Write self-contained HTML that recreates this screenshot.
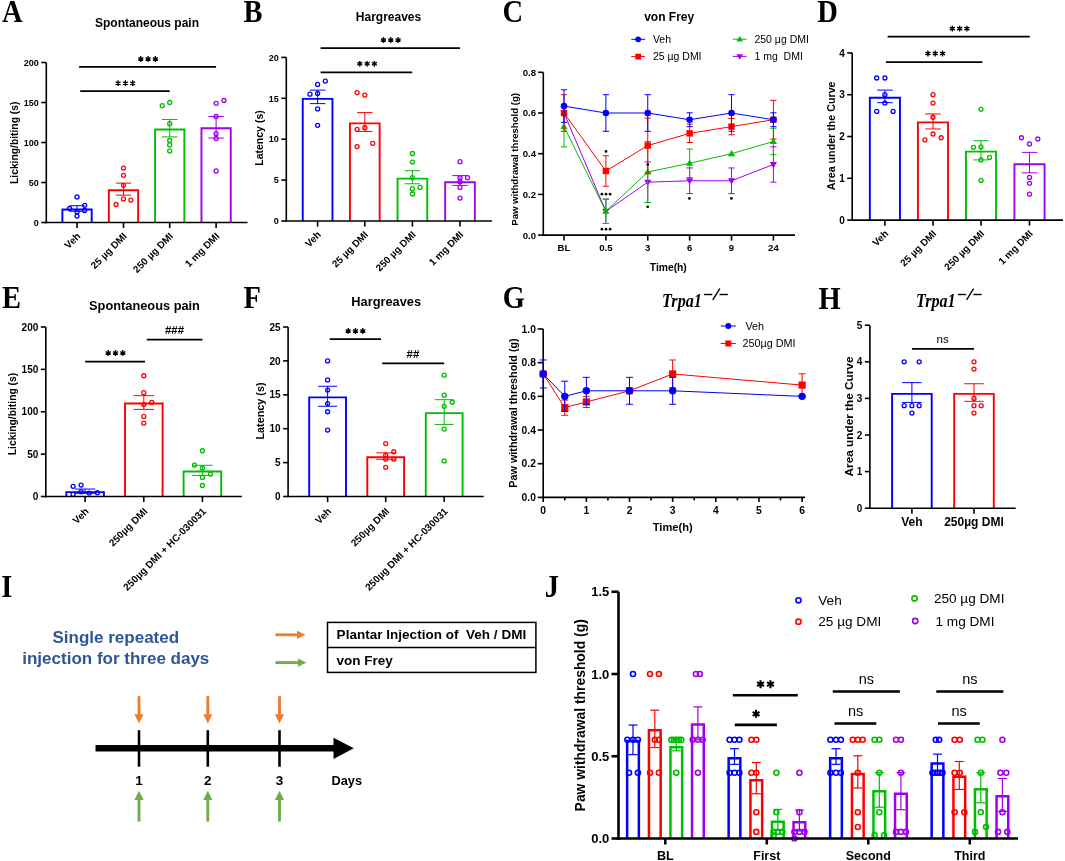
<!DOCTYPE html>
<html><head><meta charset="utf-8"><style>html,body{margin:0;padding:0;background:#fff;width:1065px;height:861px;overflow:hidden}svg{display:block;will-change:transform}</style></head>
<body><svg width="1065" height="861" viewBox="0 0 1065 861">
<rect width="1065" height="861" fill="#fff"/>
<g transform="translate(1.9 21.7) scale(0.92 1)"><text x="0" y="0" font-family="'Liberation Serif', serif" font-size="31" font-weight="bold">A</text></g>
<text x="147" y="26.5" font-family="'Liberation Sans', sans-serif" font-size="12" font-weight="bold" font-style="normal" text-anchor="middle" fill="#000">Spontaneous pain</text>
<text x="0" y="0" font-family="'Liberation Sans', sans-serif" font-size="10.3" font-weight="bold" text-anchor="middle" transform="translate(18.3 142.8) rotate(-90)">Licking/biting (s)</text>
<line x1="46.3" y1="223.3" x2="46.3" y2="62.5" stroke="#000" stroke-width="1.6" stroke-linecap="butt"/>
<line x1="41.3" y1="222.5" x2="46.3" y2="222.5" stroke="#000" stroke-width="1.6" stroke-linecap="butt"/>
<text x="38.8" y="225.74" font-family="'Liberation Sans', sans-serif" font-size="9" font-weight="bold" font-style="normal" text-anchor="end" fill="#000">0</text>
<line x1="41.3" y1="182.5" x2="46.3" y2="182.5" stroke="#000" stroke-width="1.6" stroke-linecap="butt"/>
<text x="38.8" y="185.74" font-family="'Liberation Sans', sans-serif" font-size="9" font-weight="bold" font-style="normal" text-anchor="end" fill="#000">50</text>
<line x1="41.3" y1="142.5" x2="46.3" y2="142.5" stroke="#000" stroke-width="1.6" stroke-linecap="butt"/>
<text x="38.8" y="145.74" font-family="'Liberation Sans', sans-serif" font-size="9" font-weight="bold" font-style="normal" text-anchor="end" fill="#000">100</text>
<line x1="41.3" y1="102.5" x2="46.3" y2="102.5" stroke="#000" stroke-width="1.6" stroke-linecap="butt"/>
<text x="38.8" y="105.74" font-family="'Liberation Sans', sans-serif" font-size="9" font-weight="bold" font-style="normal" text-anchor="end" fill="#000">150</text>
<line x1="41.3" y1="62.5" x2="46.3" y2="62.5" stroke="#000" stroke-width="1.6" stroke-linecap="butt"/>
<text x="38.8" y="65.74" font-family="'Liberation Sans', sans-serif" font-size="9" font-weight="bold" font-style="normal" text-anchor="end" fill="#000">200</text>
<path d="M62.4 222.5V209.45H91.7V222.5" fill="none" stroke="#0000FF" stroke-width="1.9" stroke-linejoin="miter"/>
<path d="M108.85 222.5V190.25H138.15V222.5" fill="none" stroke="#FF0000" stroke-width="1.9" stroke-linejoin="miter"/>
<path d="M155.05 222.5V129.45H184.35V222.5" fill="none" stroke="#00BE00" stroke-width="1.9" stroke-linejoin="miter"/>
<path d="M201.45 222.5V128.25H230.75V222.5" fill="none" stroke="#A000EE" stroke-width="1.9" stroke-linejoin="miter"/>
<line x1="77.05" y1="205.7" x2="77.05" y2="211.3" stroke="#0000FF" stroke-width="1" stroke-linecap="butt"/>
<line x1="69.35" y1="205.7" x2="84.75" y2="205.7" stroke="#0000FF" stroke-width="1" stroke-linecap="butt"/>
<line x1="69.35" y1="211.3" x2="84.75" y2="211.3" stroke="#0000FF" stroke-width="1" stroke-linecap="butt"/>
<circle cx="77.05" cy="196.9" r="2" stroke="#0000FF" stroke-width="1.3" fill="none"/>
<circle cx="69.65" cy="208.5" r="2" stroke="#0000FF" stroke-width="1.3" fill="none"/>
<circle cx="84.65" cy="205.3" r="2" stroke="#0000FF" stroke-width="1.3" fill="none"/>
<circle cx="84.65" cy="210.5" r="2" stroke="#0000FF" stroke-width="1.3" fill="none"/>
<circle cx="77.05" cy="211.7" r="2" stroke="#0000FF" stroke-width="1.3" fill="none"/>
<circle cx="77.05" cy="216.1" r="2" stroke="#0000FF" stroke-width="1.3" fill="none"/>
<line x1="123.5" y1="183.14" x2="123.5" y2="195.14" stroke="#FF0000" stroke-width="1" stroke-linecap="butt"/>
<line x1="115.8" y1="183.14" x2="131.2" y2="183.14" stroke="#FF0000" stroke-width="1" stroke-linecap="butt"/>
<line x1="115.8" y1="195.14" x2="131.2" y2="195.14" stroke="#FF0000" stroke-width="1" stroke-linecap="butt"/>
<circle cx="123.5" cy="168.1" r="2" stroke="#FF0000" stroke-width="1.3" fill="none"/>
<circle cx="123.5" cy="175.3" r="2" stroke="#FF0000" stroke-width="1.3" fill="none"/>
<circle cx="123.5" cy="185.3" r="2" stroke="#FF0000" stroke-width="1.3" fill="none"/>
<circle cx="130.9" cy="200.1" r="2" stroke="#FF0000" stroke-width="1.3" fill="none"/>
<circle cx="116.1" cy="204.5" r="2" stroke="#FF0000" stroke-width="1.3" fill="none"/>
<circle cx="123.5" cy="198.9" r="2" stroke="#FF0000" stroke-width="1.3" fill="none"/>
<line x1="169.7" y1="119.46" x2="169.7" y2="136.9" stroke="#00BE00" stroke-width="1" stroke-linecap="butt"/>
<line x1="162" y1="119.46" x2="177.4" y2="119.46" stroke="#00BE00" stroke-width="1" stroke-linecap="butt"/>
<line x1="162" y1="136.9" x2="177.4" y2="136.9" stroke="#00BE00" stroke-width="1" stroke-linecap="butt"/>
<circle cx="162.2" cy="105.7" r="2" stroke="#00BE00" stroke-width="1.3" fill="none"/>
<circle cx="169.7" cy="102.5" r="2" stroke="#00BE00" stroke-width="1.3" fill="none"/>
<circle cx="169.7" cy="123.7" r="2" stroke="#00BE00" stroke-width="1.3" fill="none"/>
<circle cx="169.7" cy="140.5" r="2" stroke="#00BE00" stroke-width="1.3" fill="none"/>
<circle cx="169.7" cy="144.9" r="2" stroke="#00BE00" stroke-width="1.3" fill="none"/>
<circle cx="169.7" cy="150.9" r="2" stroke="#00BE00" stroke-width="1.3" fill="none"/>
<line x1="216.1" y1="116.5" x2="216.1" y2="138.02" stroke="#A000EE" stroke-width="1" stroke-linecap="butt"/>
<line x1="208.4" y1="116.5" x2="223.8" y2="116.5" stroke="#A000EE" stroke-width="1" stroke-linecap="butt"/>
<line x1="208.4" y1="138.02" x2="223.8" y2="138.02" stroke="#A000EE" stroke-width="1" stroke-linecap="butt"/>
<circle cx="216.1" cy="103.3" r="2" stroke="#A000EE" stroke-width="1.3" fill="none"/>
<circle cx="223.9" cy="100.5" r="2" stroke="#A000EE" stroke-width="1.3" fill="none"/>
<circle cx="216.1" cy="116.5" r="2" stroke="#A000EE" stroke-width="1.3" fill="none"/>
<circle cx="216.1" cy="133.7" r="2" stroke="#A000EE" stroke-width="1.3" fill="none"/>
<circle cx="216.1" cy="138.5" r="2" stroke="#A000EE" stroke-width="1.3" fill="none"/>
<circle cx="216.1" cy="170.9" r="2" stroke="#A000EE" stroke-width="1.3" fill="none"/>
<line x1="45.5" y1="222.5" x2="247.5" y2="222.5" stroke="#000" stroke-width="1.6" stroke-linecap="butt"/>
<line x1="77.05" y1="222.5" x2="77.05" y2="228.1" stroke="#000" stroke-width="1.6" stroke-linecap="butt"/>
<line x1="123.5" y1="222.5" x2="123.5" y2="228.1" stroke="#000" stroke-width="1.6" stroke-linecap="butt"/>
<line x1="169.7" y1="222.5" x2="169.7" y2="228.1" stroke="#000" stroke-width="1.6" stroke-linecap="butt"/>
<line x1="216.1" y1="222.5" x2="216.1" y2="228.1" stroke="#000" stroke-width="1.6" stroke-linecap="butt"/>
<line x1="79.1" y1="66.8" x2="216.1" y2="66.8" stroke="#000" stroke-width="1.75" stroke-linecap="butt"/>
<line x1="80.2" y1="91.2" x2="169.7" y2="91.2" stroke="#000" stroke-width="1.75" stroke-linecap="butt"/>
<path d="M140.8 56.1L140.8 61.9M138.29 57.55L143.31 60.45M143.31 57.55L138.29 60.45" stroke="#000" stroke-width="1.35" fill="none"/>
<path d="M148.1 56.1L148.1 61.9M145.59 57.55L150.61 60.45M150.61 57.55L145.59 60.45" stroke="#000" stroke-width="1.35" fill="none"/>
<path d="M155.4 56.1L155.4 61.9M152.89 57.55L157.91 60.45M157.91 57.55L152.89 60.45" stroke="#000" stroke-width="1.35" fill="none"/>
<path d="M118.1 80.3L118.1 86.1M115.59 81.75L120.61 84.65M120.61 81.75L115.59 84.65" stroke="#000" stroke-width="1.35" fill="none"/>
<path d="M125.4 80.3L125.4 86.1M122.89 81.75L127.91 84.65M127.91 81.75L122.89 84.65" stroke="#000" stroke-width="1.35" fill="none"/>
<path d="M132.7 80.3L132.7 86.1M130.19 81.75L135.21 84.65M135.21 81.75L130.19 84.65" stroke="#000" stroke-width="1.35" fill="none"/>
<text x="0" y="0" font-family="'Liberation Sans', sans-serif" font-size="9.9" font-weight="bold" text-anchor="end" transform="translate(81.05 236.8) rotate(-45)">Veh</text>
<text x="0" y="0" font-family="'Liberation Sans', sans-serif" font-size="9.9" font-weight="bold" text-anchor="end" transform="translate(127.5 236.8) rotate(-45)">25 µg DMI</text>
<text x="0" y="0" font-family="'Liberation Sans', sans-serif" font-size="9.9" font-weight="bold" text-anchor="end" transform="translate(173.7 236.8) rotate(-45)">250 µg DMI</text>
<text x="0" y="0" font-family="'Liberation Sans', sans-serif" font-size="9.9" font-weight="bold" text-anchor="end" transform="translate(220.1 236.8) rotate(-45)">1 mg DMI</text>
<g transform="translate(243.5 21.7) scale(0.92 1)"><text x="0" y="0" font-family="'Liberation Serif', serif" font-size="31" font-weight="bold">B</text></g>
<text x="388.5" y="20.8" font-family="'Liberation Sans', sans-serif" font-size="12" font-weight="bold" font-style="normal" text-anchor="middle" fill="#000">Hargreaves</text>
<text x="0" y="0" font-family="'Liberation Sans', sans-serif" font-size="10.5" font-weight="bold" text-anchor="middle" transform="translate(262.8 138) rotate(-90)">Latency (s)</text>
<line x1="286.3" y1="221.8" x2="286.3" y2="57.4" stroke="#000" stroke-width="1.6" stroke-linecap="butt"/>
<line x1="281.3" y1="221" x2="286.3" y2="221" stroke="#000" stroke-width="1.6" stroke-linecap="butt"/>
<text x="278.8" y="224.24" font-family="'Liberation Sans', sans-serif" font-size="9" font-weight="bold" font-style="normal" text-anchor="end" fill="#000">0</text>
<line x1="281.3" y1="180.1" x2="286.3" y2="180.1" stroke="#000" stroke-width="1.6" stroke-linecap="butt"/>
<text x="278.8" y="183.34" font-family="'Liberation Sans', sans-serif" font-size="9" font-weight="bold" font-style="normal" text-anchor="end" fill="#000">5</text>
<line x1="281.3" y1="139.2" x2="286.3" y2="139.2" stroke="#000" stroke-width="1.6" stroke-linecap="butt"/>
<text x="278.8" y="142.44" font-family="'Liberation Sans', sans-serif" font-size="9" font-weight="bold" font-style="normal" text-anchor="end" fill="#000">10</text>
<line x1="281.3" y1="98.3" x2="286.3" y2="98.3" stroke="#000" stroke-width="1.6" stroke-linecap="butt"/>
<text x="278.8" y="101.54" font-family="'Liberation Sans', sans-serif" font-size="9" font-weight="bold" font-style="normal" text-anchor="end" fill="#000">15</text>
<line x1="281.3" y1="57.4" x2="286.3" y2="57.4" stroke="#000" stroke-width="1.6" stroke-linecap="butt"/>
<text x="278.8" y="60.64" font-family="'Liberation Sans', sans-serif" font-size="9" font-weight="bold" font-style="normal" text-anchor="end" fill="#000">20</text>
<path d="M302.75 221V98.84H332.45V221" fill="none" stroke="#0000FF" stroke-width="1.9" stroke-linejoin="miter"/>
<path d="M349.95 221V123.38H379.65V221" fill="none" stroke="#FF0000" stroke-width="1.9" stroke-linejoin="miter"/>
<path d="M397.55 221V178.6H427.25V221" fill="none" stroke="#00BE00" stroke-width="1.9" stroke-linejoin="miter"/>
<path d="M445.15 221V182.28H474.85V221" fill="none" stroke="#A000EE" stroke-width="1.9" stroke-linejoin="miter"/>
<line x1="317.6" y1="90.12" x2="317.6" y2="103.62" stroke="#0000FF" stroke-width="1" stroke-linecap="butt"/>
<line x1="309.85" y1="90.12" x2="325.35" y2="90.12" stroke="#0000FF" stroke-width="1" stroke-linecap="butt"/>
<line x1="309.85" y1="103.62" x2="325.35" y2="103.62" stroke="#0000FF" stroke-width="1" stroke-linecap="butt"/>
<circle cx="325.3" cy="81.12" r="2" stroke="#0000FF" stroke-width="1.3" fill="none"/>
<circle cx="317.6" cy="84.39" r="2" stroke="#0000FF" stroke-width="1.3" fill="none"/>
<circle cx="310" cy="94.21" r="2" stroke="#0000FF" stroke-width="1.3" fill="none"/>
<circle cx="317.6" cy="93.39" r="2" stroke="#0000FF" stroke-width="1.3" fill="none"/>
<circle cx="317.6" cy="108.93" r="2" stroke="#0000FF" stroke-width="1.3" fill="none"/>
<circle cx="317.6" cy="125.29" r="2" stroke="#0000FF" stroke-width="1.3" fill="none"/>
<line x1="364.8" y1="112.62" x2="364.8" y2="131.43" stroke="#FF0000" stroke-width="1" stroke-linecap="butt"/>
<line x1="357.05" y1="112.62" x2="372.55" y2="112.62" stroke="#FF0000" stroke-width="1" stroke-linecap="butt"/>
<line x1="357.05" y1="131.43" x2="372.55" y2="131.43" stroke="#FF0000" stroke-width="1" stroke-linecap="butt"/>
<circle cx="357.1" cy="92.57" r="2" stroke="#FF0000" stroke-width="1.3" fill="none"/>
<circle cx="364.8" cy="95.03" r="2" stroke="#FF0000" stroke-width="1.3" fill="none"/>
<circle cx="357.1" cy="129.38" r="2" stroke="#FF0000" stroke-width="1.3" fill="none"/>
<circle cx="364.8" cy="127.75" r="2" stroke="#FF0000" stroke-width="1.3" fill="none"/>
<circle cx="357.1" cy="146.56" r="2" stroke="#FF0000" stroke-width="1.3" fill="none"/>
<circle cx="372.7" cy="143.29" r="2" stroke="#FF0000" stroke-width="1.3" fill="none"/>
<line x1="412.4" y1="170.69" x2="412.4" y2="183.78" stroke="#00BE00" stroke-width="1" stroke-linecap="butt"/>
<line x1="404.65" y1="170.69" x2="420.15" y2="170.69" stroke="#00BE00" stroke-width="1" stroke-linecap="butt"/>
<line x1="404.65" y1="183.78" x2="420.15" y2="183.78" stroke="#00BE00" stroke-width="1" stroke-linecap="butt"/>
<circle cx="412.4" cy="153.51" r="2" stroke="#00BE00" stroke-width="1.3" fill="none"/>
<circle cx="412.4" cy="162.1" r="2" stroke="#00BE00" stroke-width="1.3" fill="none"/>
<circle cx="412.4" cy="177.65" r="2" stroke="#00BE00" stroke-width="1.3" fill="none"/>
<circle cx="412.4" cy="188.69" r="2" stroke="#00BE00" stroke-width="1.3" fill="none"/>
<circle cx="420.1" cy="187.46" r="2" stroke="#00BE00" stroke-width="1.3" fill="none"/>
<circle cx="412.4" cy="194.01" r="2" stroke="#00BE00" stroke-width="1.3" fill="none"/>
<line x1="460" y1="175.6" x2="460" y2="185.42" stroke="#A000EE" stroke-width="1" stroke-linecap="butt"/>
<line x1="452.25" y1="175.6" x2="467.75" y2="175.6" stroke="#A000EE" stroke-width="1" stroke-linecap="butt"/>
<line x1="452.25" y1="185.42" x2="467.75" y2="185.42" stroke="#A000EE" stroke-width="1" stroke-linecap="butt"/>
<circle cx="460" cy="161.69" r="2" stroke="#A000EE" stroke-width="1.3" fill="none"/>
<circle cx="460" cy="177.65" r="2" stroke="#A000EE" stroke-width="1.3" fill="none"/>
<circle cx="467.5" cy="177.65" r="2" stroke="#A000EE" stroke-width="1.3" fill="none"/>
<circle cx="460" cy="187.46" r="2" stroke="#A000EE" stroke-width="1.3" fill="none"/>
<circle cx="460" cy="198.1" r="2" stroke="#A000EE" stroke-width="1.3" fill="none"/>
<circle cx="460" cy="181.74" r="2" stroke="#A000EE" stroke-width="1.3" fill="none"/>
<line x1="285.5" y1="221" x2="491.9" y2="221" stroke="#000" stroke-width="1.6" stroke-linecap="butt"/>
<line x1="317.6" y1="221" x2="317.6" y2="226.6" stroke="#000" stroke-width="1.6" stroke-linecap="butt"/>
<line x1="364.8" y1="221" x2="364.8" y2="226.6" stroke="#000" stroke-width="1.6" stroke-linecap="butt"/>
<line x1="412.4" y1="221" x2="412.4" y2="226.6" stroke="#000" stroke-width="1.6" stroke-linecap="butt"/>
<line x1="460" y1="221" x2="460" y2="226.6" stroke="#000" stroke-width="1.6" stroke-linecap="butt"/>
<line x1="320.6" y1="48.1" x2="460" y2="48.1" stroke="#000" stroke-width="1.75" stroke-linecap="butt"/>
<line x1="320.6" y1="72.3" x2="412.2" y2="72.3" stroke="#000" stroke-width="1.75" stroke-linecap="butt"/>
<path d="M383.5 37.1L383.5 42.9M380.99 38.55L386.01 41.45M386.01 38.55L380.99 41.45" stroke="#000" stroke-width="1.35" fill="none"/>
<path d="M390.8 37.1L390.8 42.9M388.29 38.55L393.31 41.45M393.31 38.55L388.29 41.45" stroke="#000" stroke-width="1.35" fill="none"/>
<path d="M398.1 37.1L398.1 42.9M395.59 38.55L400.61 41.45M400.61 38.55L395.59 41.45" stroke="#000" stroke-width="1.35" fill="none"/>
<path d="M359.8 60.9L359.8 66.7M357.29 62.35L362.31 65.25M362.31 62.35L357.29 65.25" stroke="#000" stroke-width="1.35" fill="none"/>
<path d="M367.1 60.9L367.1 66.7M364.59 62.35L369.61 65.25M369.61 62.35L364.59 65.25" stroke="#000" stroke-width="1.35" fill="none"/>
<path d="M374.4 60.9L374.4 66.7M371.89 62.35L376.91 65.25M376.91 62.35L371.89 65.25" stroke="#000" stroke-width="1.35" fill="none"/>
<text x="0" y="0" font-family="'Liberation Sans', sans-serif" font-size="9.9" font-weight="bold" text-anchor="end" transform="translate(321.6 235.3) rotate(-45)">Veh</text>
<text x="0" y="0" font-family="'Liberation Sans', sans-serif" font-size="9.9" font-weight="bold" text-anchor="end" transform="translate(368.8 235.3) rotate(-45)">25 µg DMI</text>
<text x="0" y="0" font-family="'Liberation Sans', sans-serif" font-size="9.9" font-weight="bold" text-anchor="end" transform="translate(416.4 235.3) rotate(-45)">250 µg DMI</text>
<text x="0" y="0" font-family="'Liberation Sans', sans-serif" font-size="9.9" font-weight="bold" text-anchor="end" transform="translate(464 235.3) rotate(-45)">1 mg DMI</text>
<g transform="translate(817.2 21.7) scale(0.92 1)"><text x="0" y="0" font-family="'Liberation Serif', serif" font-size="31" font-weight="bold">D</text></g>
<text x="0" y="0" font-family="'Liberation Sans', sans-serif" font-size="10.7" font-weight="bold" text-anchor="middle" transform="translate(834.6 135.8) rotate(-90)">Area under the Curve</text>
<line x1="852.2" y1="220.9" x2="852.2" y2="52.9" stroke="#000" stroke-width="1.6" stroke-linecap="butt"/>
<line x1="847.2" y1="220.1" x2="852.2" y2="220.1" stroke="#000" stroke-width="1.6" stroke-linecap="butt"/>
<text x="844.7" y="223.7" font-family="'Liberation Sans', sans-serif" font-size="10" font-weight="bold" font-style="normal" text-anchor="end" fill="#000">0</text>
<line x1="847.2" y1="178.3" x2="852.2" y2="178.3" stroke="#000" stroke-width="1.6" stroke-linecap="butt"/>
<text x="844.7" y="181.9" font-family="'Liberation Sans', sans-serif" font-size="10" font-weight="bold" font-style="normal" text-anchor="end" fill="#000">1</text>
<line x1="847.2" y1="136.5" x2="852.2" y2="136.5" stroke="#000" stroke-width="1.6" stroke-linecap="butt"/>
<text x="844.7" y="140.1" font-family="'Liberation Sans', sans-serif" font-size="10" font-weight="bold" font-style="normal" text-anchor="end" fill="#000">2</text>
<line x1="847.2" y1="94.7" x2="852.2" y2="94.7" stroke="#000" stroke-width="1.6" stroke-linecap="butt"/>
<text x="844.7" y="98.3" font-family="'Liberation Sans', sans-serif" font-size="10" font-weight="bold" font-style="normal" text-anchor="end" fill="#000">3</text>
<line x1="847.2" y1="52.9" x2="852.2" y2="52.9" stroke="#000" stroke-width="1.6" stroke-linecap="butt"/>
<text x="844.7" y="56.5" font-family="'Liberation Sans', sans-serif" font-size="10" font-weight="bold" font-style="normal" text-anchor="end" fill="#000">4</text>
<path d="M869.85 220.1V97.74H899.95V220.1" fill="none" stroke="#0000FF" stroke-width="1.9" stroke-linejoin="miter"/>
<path d="M917.95 220.1V122.4H948.05V220.1" fill="none" stroke="#FF0000" stroke-width="1.9" stroke-linejoin="miter"/>
<path d="M965.95 220.1V151.66H996.05V220.1" fill="none" stroke="#00BE00" stroke-width="1.9" stroke-linejoin="miter"/>
<path d="M1014.45 220.1V164.2H1044.55V220.1" fill="none" stroke="#A000EE" stroke-width="1.9" stroke-linejoin="miter"/>
<line x1="884.9" y1="90.1" x2="884.9" y2="102.64" stroke="#0000FF" stroke-width="1" stroke-linecap="butt"/>
<line x1="877.15" y1="90.1" x2="892.65" y2="90.1" stroke="#0000FF" stroke-width="1" stroke-linecap="butt"/>
<line x1="877.15" y1="102.64" x2="892.65" y2="102.64" stroke="#0000FF" stroke-width="1" stroke-linecap="butt"/>
<circle cx="876.7" cy="77.98" r="2" stroke="#0000FF" stroke-width="1.3" fill="none"/>
<circle cx="884.9" cy="77.98" r="2" stroke="#0000FF" stroke-width="1.3" fill="none"/>
<circle cx="884.9" cy="94.7" r="2" stroke="#0000FF" stroke-width="1.3" fill="none"/>
<circle cx="876.7" cy="111.42" r="2" stroke="#0000FF" stroke-width="1.3" fill="none"/>
<circle cx="884.9" cy="103.06" r="2" stroke="#0000FF" stroke-width="1.3" fill="none"/>
<circle cx="893.1" cy="111.42" r="2" stroke="#0000FF" stroke-width="1.3" fill="none"/>
<line x1="933" y1="113.93" x2="933" y2="128.98" stroke="#FF0000" stroke-width="1" stroke-linecap="butt"/>
<line x1="925.25" y1="113.93" x2="940.75" y2="113.93" stroke="#FF0000" stroke-width="1" stroke-linecap="butt"/>
<line x1="925.25" y1="128.98" x2="940.75" y2="128.98" stroke="#FF0000" stroke-width="1" stroke-linecap="butt"/>
<circle cx="933" cy="94.7" r="2" stroke="#FF0000" stroke-width="1.3" fill="none"/>
<circle cx="933" cy="103.06" r="2" stroke="#FF0000" stroke-width="1.3" fill="none"/>
<circle cx="933" cy="117.27" r="2" stroke="#FF0000" stroke-width="1.3" fill="none"/>
<circle cx="924.9" cy="139.84" r="2" stroke="#FF0000" stroke-width="1.3" fill="none"/>
<circle cx="933" cy="133.99" r="2" stroke="#FF0000" stroke-width="1.3" fill="none"/>
<circle cx="941.2" cy="137.75" r="2" stroke="#FF0000" stroke-width="1.3" fill="none"/>
<line x1="981" y1="140.68" x2="981" y2="159.91" stroke="#00BE00" stroke-width="1" stroke-linecap="butt"/>
<line x1="973.25" y1="140.68" x2="988.75" y2="140.68" stroke="#00BE00" stroke-width="1" stroke-linecap="butt"/>
<line x1="973.25" y1="159.91" x2="988.75" y2="159.91" stroke="#00BE00" stroke-width="1" stroke-linecap="butt"/>
<circle cx="981" cy="109.33" r="2" stroke="#00BE00" stroke-width="1.3" fill="none"/>
<circle cx="973.5" cy="147.37" r="2" stroke="#00BE00" stroke-width="1.3" fill="none"/>
<circle cx="981" cy="146.95" r="2" stroke="#00BE00" stroke-width="1.3" fill="none"/>
<circle cx="981" cy="159.91" r="2" stroke="#00BE00" stroke-width="1.3" fill="none"/>
<circle cx="989.5" cy="157.4" r="2" stroke="#00BE00" stroke-width="1.3" fill="none"/>
<circle cx="981" cy="180.39" r="2" stroke="#00BE00" stroke-width="1.3" fill="none"/>
<line x1="1029.5" y1="152.38" x2="1029.5" y2="172.87" stroke="#A000EE" stroke-width="1" stroke-linecap="butt"/>
<line x1="1021.75" y1="152.38" x2="1037.25" y2="152.38" stroke="#A000EE" stroke-width="1" stroke-linecap="butt"/>
<line x1="1021.75" y1="172.87" x2="1037.25" y2="172.87" stroke="#A000EE" stroke-width="1" stroke-linecap="butt"/>
<circle cx="1021.5" cy="137.75" r="2" stroke="#A000EE" stroke-width="1.3" fill="none"/>
<circle cx="1029.5" cy="144.02" r="2" stroke="#A000EE" stroke-width="1.3" fill="none"/>
<circle cx="1037.8" cy="139.01" r="2" stroke="#A000EE" stroke-width="1.3" fill="none"/>
<circle cx="1029.5" cy="177.46" r="2" stroke="#A000EE" stroke-width="1.3" fill="none"/>
<circle cx="1029.5" cy="183.32" r="2" stroke="#A000EE" stroke-width="1.3" fill="none"/>
<circle cx="1029.5" cy="194.18" r="2" stroke="#A000EE" stroke-width="1.3" fill="none"/>
<line x1="851.4" y1="220.1" x2="1063" y2="220.1" stroke="#000" stroke-width="1.6" stroke-linecap="butt"/>
<line x1="884.9" y1="220.1" x2="884.9" y2="225.7" stroke="#000" stroke-width="1.6" stroke-linecap="butt"/>
<line x1="933" y1="220.1" x2="933" y2="225.7" stroke="#000" stroke-width="1.6" stroke-linecap="butt"/>
<line x1="981" y1="220.1" x2="981" y2="225.7" stroke="#000" stroke-width="1.6" stroke-linecap="butt"/>
<line x1="1029.5" y1="220.1" x2="1029.5" y2="225.7" stroke="#000" stroke-width="1.6" stroke-linecap="butt"/>
<line x1="887.6" y1="36.6" x2="1029.8" y2="36.6" stroke="#000" stroke-width="1.75" stroke-linecap="butt"/>
<line x1="885.9" y1="62" x2="982.3" y2="62" stroke="#000" stroke-width="1.75" stroke-linecap="butt"/>
<path d="M952.3 25.7L952.3 31.5M949.79 27.15L954.81 30.05M954.81 27.15L949.79 30.05" stroke="#000" stroke-width="1.35" fill="none"/>
<path d="M959.6 25.7L959.6 31.5M957.09 27.15L962.11 30.05M962.11 27.15L957.09 30.05" stroke="#000" stroke-width="1.35" fill="none"/>
<path d="M966.9 25.7L966.9 31.5M964.39 27.15L969.41 30.05M969.41 27.15L964.39 30.05" stroke="#000" stroke-width="1.35" fill="none"/>
<path d="M927.9 50.6L927.9 56.4M925.39 52.05L930.41 54.95M930.41 52.05L925.39 54.95" stroke="#000" stroke-width="1.35" fill="none"/>
<path d="M935.2 50.6L935.2 56.4M932.69 52.05L937.71 54.95M937.71 52.05L932.69 54.95" stroke="#000" stroke-width="1.35" fill="none"/>
<path d="M942.5 50.6L942.5 56.4M939.99 52.05L945.01 54.95M945.01 52.05L939.99 54.95" stroke="#000" stroke-width="1.35" fill="none"/>
<text x="0" y="0" font-family="'Liberation Sans', sans-serif" font-size="9.9" font-weight="bold" text-anchor="end" transform="translate(888.9 234.3) rotate(-45)">Veh</text>
<text x="0" y="0" font-family="'Liberation Sans', sans-serif" font-size="9.9" font-weight="bold" text-anchor="end" transform="translate(937 234.3) rotate(-45)">25 µg DMI</text>
<text x="0" y="0" font-family="'Liberation Sans', sans-serif" font-size="9.9" font-weight="bold" text-anchor="end" transform="translate(985 234.3) rotate(-45)">250 µg DMI</text>
<text x="0" y="0" font-family="'Liberation Sans', sans-serif" font-size="9.9" font-weight="bold" text-anchor="end" transform="translate(1033.5 234.3) rotate(-45)">1 mg DMI</text>
<g transform="translate(502.6 21.7) scale(0.92 1)"><text x="0" y="0" font-family="'Liberation Serif', serif" font-size="31" font-weight="bold">C</text></g>
<text x="669.2" y="20.5" font-family="'Liberation Sans', sans-serif" font-size="12" font-weight="bold" font-style="normal" text-anchor="middle" fill="#000">von Frey</text>
<line x1="631.3" y1="39.3" x2="645.1" y2="39.3" stroke="#0000FF" stroke-width="1" stroke-linecap="butt"/>
<circle cx="638.2" cy="39.3" r="2.9" stroke="#0000FF" stroke-width="0" fill="#0000FF"/>
<text x="652.9" y="43.1" font-family="'Liberation Sans', sans-serif" font-size="10.5" fill="#000" xml:space="preserve">Veh</text>
<line x1="631.3" y1="56.6" x2="645.1" y2="56.6" stroke="#FF0000" stroke-width="1" stroke-linecap="butt"/>
<rect x="635.3" y="53.7" width="5.8" height="5.8" fill="#FF0000"/>
<text x="652.9" y="60.4" font-family="'Liberation Sans', sans-serif" font-size="10.5" fill="#000" xml:space="preserve">25 µg DMI</text>
<line x1="732.8" y1="39.2" x2="746.6" y2="39.2" stroke="#00BE00" stroke-width="1" stroke-linecap="butt"/>
<polygon points="739.7,35.89 736.4,41.4 743,41.4" fill="#00BE00" stroke="none" stroke-width="0"/>
<text x="754.4" y="43" font-family="'Liberation Sans', sans-serif" font-size="10.5" fill="#000" xml:space="preserve">250 µg DMI</text>
<line x1="732.8" y1="56.4" x2="746.6" y2="56.4" stroke="#A000EE" stroke-width="1" stroke-linecap="butt"/>
<polygon points="739.7,59.71 736.4,54.2 743,54.2" fill="#A000EE" stroke="none" stroke-width="0"/>
<text x="754.4" y="60.2" font-family="'Liberation Sans', sans-serif" font-size="10.5" fill="#000" xml:space="preserve">1 mg  DMI</text>
<line x1="543.3" y1="235.9" x2="543.3" y2="72.3" stroke="#000" stroke-width="1.6" stroke-linecap="butt"/>
<line x1="538.1" y1="235.1" x2="543.3" y2="235.1" stroke="#000" stroke-width="1.6" stroke-linecap="butt"/>
<text x="536.1" y="238.56" font-family="'Liberation Sans', sans-serif" font-size="9.6" font-weight="bold" font-style="normal" text-anchor="end" fill="#000">0.0</text>
<line x1="538.1" y1="194.4" x2="543.3" y2="194.4" stroke="#000" stroke-width="1.6" stroke-linecap="butt"/>
<text x="536.1" y="197.86" font-family="'Liberation Sans', sans-serif" font-size="9.6" font-weight="bold" font-style="normal" text-anchor="end" fill="#000">0.2</text>
<line x1="538.1" y1="153.7" x2="543.3" y2="153.7" stroke="#000" stroke-width="1.6" stroke-linecap="butt"/>
<text x="536.1" y="157.16" font-family="'Liberation Sans', sans-serif" font-size="9.6" font-weight="bold" font-style="normal" text-anchor="end" fill="#000">0.4</text>
<line x1="538.1" y1="113" x2="543.3" y2="113" stroke="#000" stroke-width="1.6" stroke-linecap="butt"/>
<text x="536.1" y="116.46" font-family="'Liberation Sans', sans-serif" font-size="9.6" font-weight="bold" font-style="normal" text-anchor="end" fill="#000">0.6</text>
<line x1="538.1" y1="72.3" x2="543.3" y2="72.3" stroke="#000" stroke-width="1.6" stroke-linecap="butt"/>
<text x="536.1" y="75.76" font-family="'Liberation Sans', sans-serif" font-size="9.6" font-weight="bold" font-style="normal" text-anchor="end" fill="#000">0.8</text>
<text x="0" y="0" font-family="'Liberation Sans', sans-serif" font-size="9.6" font-weight="bold" text-anchor="middle" transform="translate(517.8 159.4) rotate(-90)">Paw withdrawal threshold (g)</text>
<line x1="605.88" y1="199.08" x2="605.88" y2="223.5" stroke="#A000EE" stroke-width="1" stroke-linecap="butt"/>
<line x1="602.78" y1="199.08" x2="608.98" y2="199.08" stroke="#A000EE" stroke-width="1" stroke-linecap="butt"/>
<line x1="602.78" y1="223.5" x2="608.98" y2="223.5" stroke="#A000EE" stroke-width="1" stroke-linecap="butt"/>
<line x1="647.76" y1="161.84" x2="647.76" y2="202.54" stroke="#A000EE" stroke-width="1" stroke-linecap="butt"/>
<line x1="644.66" y1="161.84" x2="650.86" y2="161.84" stroke="#A000EE" stroke-width="1" stroke-linecap="butt"/>
<line x1="644.66" y1="202.54" x2="650.86" y2="202.54" stroke="#A000EE" stroke-width="1" stroke-linecap="butt"/>
<line x1="689.64" y1="167.94" x2="689.64" y2="193.59" stroke="#A000EE" stroke-width="1" stroke-linecap="butt"/>
<line x1="686.54" y1="167.94" x2="692.74" y2="167.94" stroke="#A000EE" stroke-width="1" stroke-linecap="butt"/>
<line x1="686.54" y1="193.59" x2="692.74" y2="193.59" stroke="#A000EE" stroke-width="1" stroke-linecap="butt"/>
<line x1="731.52" y1="167.94" x2="731.52" y2="193.59" stroke="#A000EE" stroke-width="1" stroke-linecap="butt"/>
<line x1="728.42" y1="167.94" x2="734.62" y2="167.94" stroke="#A000EE" stroke-width="1" stroke-linecap="butt"/>
<line x1="728.42" y1="193.59" x2="734.62" y2="193.59" stroke="#A000EE" stroke-width="1" stroke-linecap="butt"/>
<line x1="773.4" y1="146.78" x2="773.4" y2="182.19" stroke="#A000EE" stroke-width="1" stroke-linecap="butt"/>
<line x1="770.3" y1="146.78" x2="776.5" y2="146.78" stroke="#A000EE" stroke-width="1" stroke-linecap="butt"/>
<line x1="770.3" y1="182.19" x2="776.5" y2="182.19" stroke="#A000EE" stroke-width="1" stroke-linecap="butt"/>
<polyline points="564,113 605.88,211.29 647.76,182.19 689.64,180.77 731.52,180.77 773.4,164.49" fill="none" stroke="#A000EE" stroke-width="1" stroke-linejoin="round"/>
<polygon points="564,116.65 560.4,110.57 567.6,110.57" fill="#A000EE" stroke="none" stroke-width="0"/>
<polygon points="605.88,214.94 602.28,208.86 609.48,208.86" fill="#A000EE" stroke="none" stroke-width="0"/>
<polygon points="647.76,185.84 644.16,179.76 651.36,179.76" fill="#A000EE" stroke="none" stroke-width="0"/>
<polygon points="689.64,184.41 686.04,178.33 693.24,178.33" fill="#A000EE" stroke="none" stroke-width="0"/>
<polygon points="731.52,184.41 727.92,178.33 735.12,178.33" fill="#A000EE" stroke="none" stroke-width="0"/>
<polygon points="773.4,168.13 769.8,162.05 777,162.05" fill="#A000EE" stroke="none" stroke-width="0"/>
<line x1="564" y1="106.28" x2="564" y2="146.98" stroke="#00BE00" stroke-width="1" stroke-linecap="butt"/>
<line x1="560.9" y1="106.28" x2="567.1" y2="106.28" stroke="#00BE00" stroke-width="1" stroke-linecap="butt"/>
<line x1="560.9" y1="146.98" x2="567.1" y2="146.98" stroke="#00BE00" stroke-width="1" stroke-linecap="butt"/>
<line x1="605.88" y1="199.08" x2="605.88" y2="223.5" stroke="#00BE00" stroke-width="1" stroke-linecap="butt"/>
<line x1="602.78" y1="199.08" x2="608.98" y2="199.08" stroke="#00BE00" stroke-width="1" stroke-linecap="butt"/>
<line x1="602.78" y1="223.5" x2="608.98" y2="223.5" stroke="#00BE00" stroke-width="1" stroke-linecap="butt"/>
<line x1="647.76" y1="141.49" x2="647.76" y2="202.54" stroke="#00BE00" stroke-width="1" stroke-linecap="butt"/>
<line x1="644.66" y1="141.49" x2="650.86" y2="141.49" stroke="#00BE00" stroke-width="1" stroke-linecap="butt"/>
<line x1="644.66" y1="202.54" x2="650.86" y2="202.54" stroke="#00BE00" stroke-width="1" stroke-linecap="butt"/>
<line x1="689.64" y1="149.02" x2="689.64" y2="177.51" stroke="#00BE00" stroke-width="1" stroke-linecap="butt"/>
<line x1="686.54" y1="149.02" x2="692.74" y2="149.02" stroke="#00BE00" stroke-width="1" stroke-linecap="butt"/>
<line x1="686.54" y1="177.51" x2="692.74" y2="177.51" stroke="#00BE00" stroke-width="1" stroke-linecap="butt"/>
<line x1="773.4" y1="128.26" x2="773.4" y2="154.72" stroke="#00BE00" stroke-width="1" stroke-linecap="butt"/>
<line x1="770.3" y1="128.26" x2="776.5" y2="128.26" stroke="#00BE00" stroke-width="1" stroke-linecap="butt"/>
<line x1="770.3" y1="154.72" x2="776.5" y2="154.72" stroke="#00BE00" stroke-width="1" stroke-linecap="butt"/>
<polyline points="564,126.63 605.88,211.29 647.76,172.01 689.64,163.26 731.52,153.7 773.4,141.49" fill="none" stroke="#00BE00" stroke-width="1" stroke-linejoin="round"/>
<polygon points="564,122.99 560.4,129.07 567.6,129.07" fill="#00BE00" stroke="none" stroke-width="0"/>
<polygon points="605.88,207.64 602.28,213.72 609.48,213.72" fill="#00BE00" stroke="none" stroke-width="0"/>
<polygon points="647.76,168.37 644.16,174.45 651.36,174.45" fill="#00BE00" stroke="none" stroke-width="0"/>
<polygon points="689.64,159.62 686.04,165.7 693.24,165.7" fill="#00BE00" stroke="none" stroke-width="0"/>
<polygon points="731.52,150.05 727.92,156.13 735.12,156.13" fill="#00BE00" stroke="none" stroke-width="0"/>
<polygon points="773.4,137.84 769.8,143.92 777,143.92" fill="#00BE00" stroke="none" stroke-width="0"/>
<line x1="564" y1="94.69" x2="564" y2="131.31" stroke="#FF0000" stroke-width="1" stroke-linecap="butt"/>
<line x1="560.9" y1="94.69" x2="567.1" y2="94.69" stroke="#FF0000" stroke-width="1" stroke-linecap="butt"/>
<line x1="560.9" y1="131.31" x2="567.1" y2="131.31" stroke="#FF0000" stroke-width="1" stroke-linecap="butt"/>
<line x1="605.88" y1="155.73" x2="605.88" y2="186.26" stroke="#FF0000" stroke-width="1" stroke-linecap="butt"/>
<line x1="602.78" y1="155.73" x2="608.98" y2="155.73" stroke="#FF0000" stroke-width="1" stroke-linecap="butt"/>
<line x1="602.78" y1="186.26" x2="608.98" y2="186.26" stroke="#FF0000" stroke-width="1" stroke-linecap="butt"/>
<line x1="647.76" y1="118.09" x2="647.76" y2="173.03" stroke="#FF0000" stroke-width="1" stroke-linecap="butt"/>
<line x1="644.66" y1="118.09" x2="650.86" y2="118.09" stroke="#FF0000" stroke-width="1" stroke-linecap="butt"/>
<line x1="644.66" y1="173.03" x2="650.86" y2="173.03" stroke="#FF0000" stroke-width="1" stroke-linecap="butt"/>
<line x1="689.64" y1="124.19" x2="689.64" y2="142.51" stroke="#FF0000" stroke-width="1" stroke-linecap="butt"/>
<line x1="686.54" y1="124.19" x2="692.74" y2="124.19" stroke="#FF0000" stroke-width="1" stroke-linecap="butt"/>
<line x1="686.54" y1="142.51" x2="692.74" y2="142.51" stroke="#FF0000" stroke-width="1" stroke-linecap="butt"/>
<line x1="731.52" y1="118.49" x2="731.52" y2="134.77" stroke="#FF0000" stroke-width="1" stroke-linecap="butt"/>
<line x1="728.42" y1="118.49" x2="734.62" y2="118.49" stroke="#FF0000" stroke-width="1" stroke-linecap="butt"/>
<line x1="728.42" y1="134.77" x2="734.62" y2="134.77" stroke="#FF0000" stroke-width="1" stroke-linecap="butt"/>
<line x1="773.4" y1="100.38" x2="773.4" y2="139.05" stroke="#FF0000" stroke-width="1" stroke-linecap="butt"/>
<line x1="770.3" y1="100.38" x2="776.5" y2="100.38" stroke="#FF0000" stroke-width="1" stroke-linecap="butt"/>
<line x1="770.3" y1="139.05" x2="776.5" y2="139.05" stroke="#FF0000" stroke-width="1" stroke-linecap="butt"/>
<polyline points="564,113 605.88,171 647.76,145.56 689.64,133.35 731.52,126.63 773.4,119.72" fill="none" stroke="#FF0000" stroke-width="1" stroke-linejoin="round"/>
<rect x="560.8" y="109.8" width="6.4" height="6.4" fill="#FF0000"/>
<rect x="602.68" y="167.8" width="6.4" height="6.4" fill="#FF0000"/>
<rect x="644.56" y="142.36" width="6.4" height="6.4" fill="#FF0000"/>
<rect x="686.44" y="130.15" width="6.4" height="6.4" fill="#FF0000"/>
<rect x="728.32" y="123.43" width="6.4" height="6.4" fill="#FF0000"/>
<rect x="770.2" y="116.52" width="6.4" height="6.4" fill="#FF0000"/>
<line x1="564" y1="89.8" x2="564" y2="122.36" stroke="#0000FF" stroke-width="1" stroke-linecap="butt"/>
<line x1="560.9" y1="89.8" x2="567.1" y2="89.8" stroke="#0000FF" stroke-width="1" stroke-linecap="butt"/>
<line x1="560.9" y1="122.36" x2="567.1" y2="122.36" stroke="#0000FF" stroke-width="1" stroke-linecap="butt"/>
<line x1="605.88" y1="94.69" x2="605.88" y2="131.31" stroke="#0000FF" stroke-width="1" stroke-linecap="butt"/>
<line x1="602.78" y1="94.69" x2="608.98" y2="94.69" stroke="#0000FF" stroke-width="1" stroke-linecap="butt"/>
<line x1="602.78" y1="131.31" x2="608.98" y2="131.31" stroke="#0000FF" stroke-width="1" stroke-linecap="butt"/>
<line x1="647.76" y1="94.69" x2="647.76" y2="131.31" stroke="#0000FF" stroke-width="1" stroke-linecap="butt"/>
<line x1="644.66" y1="94.69" x2="650.86" y2="94.69" stroke="#0000FF" stroke-width="1" stroke-linecap="butt"/>
<line x1="644.66" y1="131.31" x2="650.86" y2="131.31" stroke="#0000FF" stroke-width="1" stroke-linecap="butt"/>
<line x1="689.64" y1="112.8" x2="689.64" y2="126.63" stroke="#0000FF" stroke-width="1" stroke-linecap="butt"/>
<line x1="686.54" y1="112.8" x2="692.74" y2="112.8" stroke="#0000FF" stroke-width="1" stroke-linecap="butt"/>
<line x1="686.54" y1="126.63" x2="692.74" y2="126.63" stroke="#0000FF" stroke-width="1" stroke-linecap="butt"/>
<line x1="731.52" y1="94.69" x2="731.52" y2="131.31" stroke="#0000FF" stroke-width="1" stroke-linecap="butt"/>
<line x1="728.42" y1="94.69" x2="734.62" y2="94.69" stroke="#0000FF" stroke-width="1" stroke-linecap="butt"/>
<line x1="728.42" y1="131.31" x2="734.62" y2="131.31" stroke="#0000FF" stroke-width="1" stroke-linecap="butt"/>
<line x1="773.4" y1="112.8" x2="773.4" y2="126.63" stroke="#0000FF" stroke-width="1" stroke-linecap="butt"/>
<line x1="770.3" y1="112.8" x2="776.5" y2="112.8" stroke="#0000FF" stroke-width="1" stroke-linecap="butt"/>
<line x1="770.3" y1="126.63" x2="776.5" y2="126.63" stroke="#0000FF" stroke-width="1" stroke-linecap="butt"/>
<polyline points="564,106.08 605.88,113 647.76,113 689.64,119.72 731.52,113 773.4,119.72" fill="none" stroke="#0000FF" stroke-width="1" stroke-linejoin="round"/>
<circle cx="564" cy="106.08" r="3.3" stroke="#0000FF" stroke-width="0" fill="#0000FF"/>
<circle cx="605.88" cy="113" r="3.3" stroke="#0000FF" stroke-width="0" fill="#0000FF"/>
<circle cx="647.76" cy="113" r="3.3" stroke="#0000FF" stroke-width="0" fill="#0000FF"/>
<circle cx="689.64" cy="119.72" r="3.3" stroke="#0000FF" stroke-width="0" fill="#0000FF"/>
<circle cx="731.52" cy="113" r="3.3" stroke="#0000FF" stroke-width="0" fill="#0000FF"/>
<circle cx="773.4" cy="119.72" r="3.3" stroke="#0000FF" stroke-width="0" fill="#0000FF"/>
<line x1="542.5" y1="235.1" x2="795" y2="235.1" stroke="#000" stroke-width="1.6" stroke-linecap="butt"/>
<line x1="564" y1="235.1" x2="564" y2="240.6" stroke="#000" stroke-width="1.6" stroke-linecap="butt"/>
<text x="564" y="250.9" font-family="'Liberation Sans', sans-serif" font-size="9.6" font-weight="bold" font-style="normal" text-anchor="middle" fill="#000">BL</text>
<line x1="605.88" y1="235.1" x2="605.88" y2="240.6" stroke="#000" stroke-width="1.6" stroke-linecap="butt"/>
<text x="605.88" y="250.9" font-family="'Liberation Sans', sans-serif" font-size="9.6" font-weight="bold" font-style="normal" text-anchor="middle" fill="#000">0.5</text>
<line x1="647.76" y1="235.1" x2="647.76" y2="240.6" stroke="#000" stroke-width="1.6" stroke-linecap="butt"/>
<text x="647.76" y="250.9" font-family="'Liberation Sans', sans-serif" font-size="9.6" font-weight="bold" font-style="normal" text-anchor="middle" fill="#000">3</text>
<line x1="689.64" y1="235.1" x2="689.64" y2="240.6" stroke="#000" stroke-width="1.6" stroke-linecap="butt"/>
<text x="689.64" y="250.9" font-family="'Liberation Sans', sans-serif" font-size="9.6" font-weight="bold" font-style="normal" text-anchor="middle" fill="#000">6</text>
<line x1="731.52" y1="235.1" x2="731.52" y2="240.6" stroke="#000" stroke-width="1.6" stroke-linecap="butt"/>
<text x="731.52" y="250.9" font-family="'Liberation Sans', sans-serif" font-size="9.6" font-weight="bold" font-style="normal" text-anchor="middle" fill="#000">9</text>
<line x1="773.4" y1="235.1" x2="773.4" y2="240.6" stroke="#000" stroke-width="1.6" stroke-linecap="butt"/>
<text x="773.4" y="250.9" font-family="'Liberation Sans', sans-serif" font-size="9.6" font-weight="bold" font-style="normal" text-anchor="middle" fill="#000">24</text>
<text x="668.3" y="271" font-family="'Liberation Sans', sans-serif" font-size="10.3" font-weight="bold" font-style="normal" text-anchor="middle" fill="#000">Time(h)</text>
<circle cx="606" cy="151.4" r="1.35" stroke="#000" stroke-width="0" fill="#000"/>
<circle cx="601.9" cy="194.2" r="1.35" stroke="#000" stroke-width="0" fill="#000"/>
<circle cx="606" cy="194.2" r="1.35" stroke="#000" stroke-width="0" fill="#000"/>
<circle cx="610.1" cy="194.2" r="1.35" stroke="#000" stroke-width="0" fill="#000"/>
<circle cx="601.9" cy="229.2" r="1.35" stroke="#000" stroke-width="0" fill="#000"/>
<circle cx="606" cy="229.2" r="1.35" stroke="#000" stroke-width="0" fill="#000"/>
<circle cx="610.1" cy="229.2" r="1.35" stroke="#000" stroke-width="0" fill="#000"/>
<circle cx="647.7" cy="164.6" r="1.35" stroke="#000" stroke-width="0" fill="#000"/>
<circle cx="647.7" cy="206.8" r="1.35" stroke="#000" stroke-width="0" fill="#000"/>
<circle cx="689.4" cy="198.4" r="1.35" stroke="#000" stroke-width="0" fill="#000"/>
<circle cx="731.4" cy="198.4" r="1.35" stroke="#000" stroke-width="0" fill="#000"/>
<g transform="translate(2.1 307.9) scale(0.92 1)"><text x="0" y="0" font-family="'Liberation Serif', serif" font-size="31" font-weight="bold">E</text></g>
<text x="144.5" y="309.8" font-family="'Liberation Sans', sans-serif" font-size="12.8" font-weight="bold" font-style="normal" text-anchor="middle" fill="#000">Spontaneous pain</text>
<text x="0" y="0" font-family="'Liberation Sans', sans-serif" font-size="10.3" font-weight="bold" text-anchor="middle" transform="translate(15.8 414) rotate(-90)">Licking/biting (s)</text>
<line x1="45.8" y1="497.3" x2="45.8" y2="327" stroke="#000" stroke-width="1.6" stroke-linecap="butt"/>
<line x1="40.8" y1="496.5" x2="45.8" y2="496.5" stroke="#000" stroke-width="1.6" stroke-linecap="butt"/>
<text x="38.3" y="500.1" font-family="'Liberation Sans', sans-serif" font-size="10" font-weight="bold" font-style="normal" text-anchor="end" fill="#000">0</text>
<line x1="40.8" y1="454.12" x2="45.8" y2="454.12" stroke="#000" stroke-width="1.6" stroke-linecap="butt"/>
<text x="38.3" y="457.73" font-family="'Liberation Sans', sans-serif" font-size="10" font-weight="bold" font-style="normal" text-anchor="end" fill="#000">50</text>
<line x1="40.8" y1="411.75" x2="45.8" y2="411.75" stroke="#000" stroke-width="1.6" stroke-linecap="butt"/>
<text x="38.3" y="415.35" font-family="'Liberation Sans', sans-serif" font-size="10" font-weight="bold" font-style="normal" text-anchor="end" fill="#000">100</text>
<line x1="40.8" y1="369.38" x2="45.8" y2="369.38" stroke="#000" stroke-width="1.6" stroke-linecap="butt"/>
<text x="38.3" y="372.98" font-family="'Liberation Sans', sans-serif" font-size="10" font-weight="bold" font-style="normal" text-anchor="end" fill="#000">150</text>
<line x1="40.8" y1="327" x2="45.8" y2="327" stroke="#000" stroke-width="1.6" stroke-linecap="butt"/>
<text x="38.3" y="330.6" font-family="'Liberation Sans', sans-serif" font-size="10" font-weight="bold" font-style="normal" text-anchor="end" fill="#000">200</text>
<path d="M66.3 496.5V492.11H103.9V496.5" fill="none" stroke="#0000FF" stroke-width="1.9" stroke-linejoin="miter"/>
<path d="M125 496.5V403.55H162.6V496.5" fill="none" stroke="#FF0000" stroke-width="1.9" stroke-linejoin="miter"/>
<path d="M183.6 496.5V471.52H221.2V496.5" fill="none" stroke="#00BE00" stroke-width="1.9" stroke-linejoin="miter"/>
<line x1="85.1" y1="489.04" x2="85.1" y2="493.28" stroke="#0000FF" stroke-width="1" stroke-linecap="butt"/>
<line x1="74.85" y1="489.04" x2="95.35" y2="489.04" stroke="#0000FF" stroke-width="1" stroke-linecap="butt"/>
<line x1="74.85" y1="493.28" x2="95.35" y2="493.28" stroke="#0000FF" stroke-width="1" stroke-linecap="butt"/>
<circle cx="73.1" cy="486.33" r="2" stroke="#0000FF" stroke-width="1.3" fill="none"/>
<circle cx="81.1" cy="485.06" r="2" stroke="#0000FF" stroke-width="1.3" fill="none"/>
<circle cx="73.1" cy="494.38" r="2" stroke="#0000FF" stroke-width="1.3" fill="none"/>
<circle cx="81.1" cy="491.84" r="2" stroke="#0000FF" stroke-width="1.3" fill="none"/>
<circle cx="89.2" cy="493.11" r="2" stroke="#0000FF" stroke-width="1.3" fill="none"/>
<circle cx="97.4" cy="492.69" r="2" stroke="#0000FF" stroke-width="1.3" fill="none"/>
<line x1="143.8" y1="395.65" x2="143.8" y2="409.38" stroke="#FF0000" stroke-width="1" stroke-linecap="butt"/>
<line x1="133.55" y1="395.65" x2="154.05" y2="395.65" stroke="#FF0000" stroke-width="1" stroke-linecap="butt"/>
<line x1="133.55" y1="409.38" x2="154.05" y2="409.38" stroke="#FF0000" stroke-width="1" stroke-linecap="butt"/>
<circle cx="143.8" cy="375.73" r="2" stroke="#FF0000" stroke-width="1.3" fill="none"/>
<circle cx="143.8" cy="392.68" r="2" stroke="#FF0000" stroke-width="1.3" fill="none"/>
<circle cx="143.8" cy="404.55" r="2" stroke="#FF0000" stroke-width="1.3" fill="none"/>
<circle cx="151.7" cy="402.43" r="2" stroke="#FF0000" stroke-width="1.3" fill="none"/>
<circle cx="143.8" cy="416.41" r="2" stroke="#FF0000" stroke-width="1.3" fill="none"/>
<circle cx="143.8" cy="423.19" r="2" stroke="#FF0000" stroke-width="1.3" fill="none"/>
<line x1="202.4" y1="465.31" x2="202.4" y2="475.48" stroke="#00BE00" stroke-width="1" stroke-linecap="butt"/>
<line x1="192.15" y1="465.31" x2="212.65" y2="465.31" stroke="#00BE00" stroke-width="1" stroke-linecap="butt"/>
<line x1="192.15" y1="475.48" x2="212.65" y2="475.48" stroke="#00BE00" stroke-width="1" stroke-linecap="butt"/>
<circle cx="202.4" cy="450.74" r="2" stroke="#00BE00" stroke-width="1.3" fill="none"/>
<circle cx="194.5" cy="465.14" r="2" stroke="#00BE00" stroke-width="1.3" fill="none"/>
<circle cx="202.4" cy="468.11" r="2" stroke="#00BE00" stroke-width="1.3" fill="none"/>
<circle cx="202.4" cy="477.43" r="2" stroke="#00BE00" stroke-width="1.3" fill="none"/>
<circle cx="210.5" cy="474.04" r="2" stroke="#00BE00" stroke-width="1.3" fill="none"/>
<circle cx="202.4" cy="485.48" r="2" stroke="#00BE00" stroke-width="1.3" fill="none"/>
<line x1="45" y1="496.5" x2="241.8" y2="496.5" stroke="#000" stroke-width="1.6" stroke-linecap="butt"/>
<line x1="85.1" y1="496.5" x2="85.1" y2="502.1" stroke="#000" stroke-width="1.6" stroke-linecap="butt"/>
<line x1="143.8" y1="496.5" x2="143.8" y2="502.1" stroke="#000" stroke-width="1.6" stroke-linecap="butt"/>
<line x1="202.4" y1="496.5" x2="202.4" y2="502.1" stroke="#000" stroke-width="1.6" stroke-linecap="butt"/>
<line x1="85.1" y1="361.6" x2="145" y2="361.6" stroke="#000" stroke-width="1.75" stroke-linecap="butt"/>
<line x1="146.8" y1="339.5" x2="202.4" y2="339.5" stroke="#000" stroke-width="1.75" stroke-linecap="butt"/>
<path d="M108.2 350.1L108.2 355.9M105.69 351.55L110.71 354.45M110.71 351.55L105.69 354.45" stroke="#000" stroke-width="1.35" fill="none"/>
<path d="M115.5 350.1L115.5 355.9M112.99 351.55L118.01 354.45M118.01 351.55L112.99 354.45" stroke="#000" stroke-width="1.35" fill="none"/>
<path d="M122.8 350.1L122.8 355.9M120.29 351.55L125.31 354.45M125.31 351.55L120.29 354.45" stroke="#000" stroke-width="1.35" fill="none"/>
<text x="174.5" y="334" font-family="'Liberation Sans', sans-serif" font-size="11.5" font-weight="bold" font-style="normal" text-anchor="middle" fill="#000">###</text>
<text x="0" y="0" font-family="'Liberation Sans', sans-serif" font-size="10" font-weight="bold" text-anchor="end" transform="translate(89.4 512) rotate(-45)">Veh</text>
<text x="0" y="0" font-family="'Liberation Sans', sans-serif" font-size="10" font-weight="bold" text-anchor="end" transform="translate(148.1 512) rotate(-45)">250µg DMI</text>
<text x="0" y="0" font-family="'Liberation Sans', sans-serif" font-size="10" font-weight="bold" text-anchor="end" transform="translate(206.7 512) rotate(-45)">250µg DMI + HC-030031</text>
<g transform="translate(243.5 307.9) scale(0.92 1)"><text x="0" y="0" font-family="'Liberation Serif', serif" font-size="31" font-weight="bold">F</text></g>
<text x="386.2" y="305.6" font-family="'Liberation Sans', sans-serif" font-size="12.8" font-weight="bold" font-style="normal" text-anchor="middle" fill="#000">Hargreaves</text>
<text x="0" y="0" font-family="'Liberation Sans', sans-serif" font-size="10.8" font-weight="bold" text-anchor="middle" transform="translate(264 411) rotate(-90)">Latency (s)</text>
<line x1="288.1" y1="497.3" x2="288.1" y2="327" stroke="#000" stroke-width="1.6" stroke-linecap="butt"/>
<line x1="283.1" y1="496.5" x2="288.1" y2="496.5" stroke="#000" stroke-width="1.6" stroke-linecap="butt"/>
<text x="280.6" y="500.1" font-family="'Liberation Sans', sans-serif" font-size="10" font-weight="bold" font-style="normal" text-anchor="end" fill="#000">0</text>
<line x1="283.1" y1="462.6" x2="288.1" y2="462.6" stroke="#000" stroke-width="1.6" stroke-linecap="butt"/>
<text x="280.6" y="466.2" font-family="'Liberation Sans', sans-serif" font-size="10" font-weight="bold" font-style="normal" text-anchor="end" fill="#000">5</text>
<line x1="283.1" y1="428.7" x2="288.1" y2="428.7" stroke="#000" stroke-width="1.6" stroke-linecap="butt"/>
<text x="280.6" y="432.3" font-family="'Liberation Sans', sans-serif" font-size="10" font-weight="bold" font-style="normal" text-anchor="end" fill="#000">10</text>
<line x1="283.1" y1="394.8" x2="288.1" y2="394.8" stroke="#000" stroke-width="1.6" stroke-linecap="butt"/>
<text x="280.6" y="398.4" font-family="'Liberation Sans', sans-serif" font-size="10" font-weight="bold" font-style="normal" text-anchor="end" fill="#000">15</text>
<line x1="283.1" y1="360.9" x2="288.1" y2="360.9" stroke="#000" stroke-width="1.6" stroke-linecap="butt"/>
<text x="280.6" y="364.5" font-family="'Liberation Sans', sans-serif" font-size="10" font-weight="bold" font-style="normal" text-anchor="end" fill="#000">20</text>
<line x1="283.1" y1="327" x2="288.1" y2="327" stroke="#000" stroke-width="1.6" stroke-linecap="butt"/>
<text x="280.6" y="330.6" font-family="'Liberation Sans', sans-serif" font-size="10" font-weight="bold" font-style="normal" text-anchor="end" fill="#000">25</text>
<path d="M309.2 496.5V397.38H346V496.5" fill="none" stroke="#0000FF" stroke-width="1.9" stroke-linejoin="miter"/>
<path d="M367.3 496.5V457.24H404.1V496.5" fill="none" stroke="#FF0000" stroke-width="1.9" stroke-linejoin="miter"/>
<path d="M425.8 496.5V413.17H462.6V496.5" fill="none" stroke="#00BE00" stroke-width="1.9" stroke-linejoin="miter"/>
<line x1="327.6" y1="386.26" x2="327.6" y2="406.26" stroke="#0000FF" stroke-width="1" stroke-linecap="butt"/>
<line x1="318.1" y1="386.26" x2="337.1" y2="386.26" stroke="#0000FF" stroke-width="1" stroke-linecap="butt"/>
<line x1="318.1" y1="406.26" x2="337.1" y2="406.26" stroke="#0000FF" stroke-width="1" stroke-linecap="butt"/>
<circle cx="327.6" cy="360.9" r="2" stroke="#0000FF" stroke-width="1.3" fill="none"/>
<circle cx="327.6" cy="379.88" r="2" stroke="#0000FF" stroke-width="1.3" fill="none"/>
<circle cx="327.6" cy="390.05" r="2" stroke="#0000FF" stroke-width="1.3" fill="none"/>
<circle cx="327.6" cy="403.61" r="2" stroke="#0000FF" stroke-width="1.3" fill="none"/>
<circle cx="327.6" cy="411.75" r="2" stroke="#0000FF" stroke-width="1.3" fill="none"/>
<circle cx="327.6" cy="430.06" r="2" stroke="#0000FF" stroke-width="1.3" fill="none"/>
<line x1="385.7" y1="452.9" x2="385.7" y2="459.35" stroke="#FF0000" stroke-width="1" stroke-linecap="butt"/>
<line x1="376.2" y1="452.9" x2="395.2" y2="452.9" stroke="#FF0000" stroke-width="1" stroke-linecap="butt"/>
<line x1="376.2" y1="459.35" x2="395.2" y2="459.35" stroke="#FF0000" stroke-width="1" stroke-linecap="butt"/>
<circle cx="385.7" cy="443.62" r="2" stroke="#FF0000" stroke-width="1.3" fill="none"/>
<circle cx="393.8" cy="451.75" r="2" stroke="#FF0000" stroke-width="1.3" fill="none"/>
<circle cx="385.7" cy="455.14" r="2" stroke="#FF0000" stroke-width="1.3" fill="none"/>
<circle cx="393.8" cy="459.21" r="2" stroke="#FF0000" stroke-width="1.3" fill="none"/>
<circle cx="385.7" cy="459.21" r="2" stroke="#FF0000" stroke-width="1.3" fill="none"/>
<circle cx="385.7" cy="467.35" r="2" stroke="#FF0000" stroke-width="1.3" fill="none"/>
<line x1="444.2" y1="399.68" x2="444.2" y2="424.43" stroke="#00BE00" stroke-width="1" stroke-linecap="butt"/>
<line x1="434.7" y1="399.68" x2="453.7" y2="399.68" stroke="#00BE00" stroke-width="1" stroke-linecap="butt"/>
<line x1="434.7" y1="424.43" x2="453.7" y2="424.43" stroke="#00BE00" stroke-width="1" stroke-linecap="butt"/>
<circle cx="444.2" cy="375.14" r="2" stroke="#00BE00" stroke-width="1.3" fill="none"/>
<circle cx="444.2" cy="395.14" r="2" stroke="#00BE00" stroke-width="1.3" fill="none"/>
<circle cx="452.3" cy="402.26" r="2" stroke="#00BE00" stroke-width="1.3" fill="none"/>
<circle cx="444.2" cy="406.33" r="2" stroke="#00BE00" stroke-width="1.3" fill="none"/>
<circle cx="444.2" cy="429.04" r="2" stroke="#00BE00" stroke-width="1.3" fill="none"/>
<circle cx="444.2" cy="460.9" r="2" stroke="#00BE00" stroke-width="1.3" fill="none"/>
<line x1="287.3" y1="496.5" x2="483.7" y2="496.5" stroke="#000" stroke-width="1.6" stroke-linecap="butt"/>
<line x1="327.6" y1="496.5" x2="327.6" y2="502.1" stroke="#000" stroke-width="1.6" stroke-linecap="butt"/>
<line x1="385.7" y1="496.5" x2="385.7" y2="502.1" stroke="#000" stroke-width="1.6" stroke-linecap="butt"/>
<line x1="444.2" y1="496.5" x2="444.2" y2="502.1" stroke="#000" stroke-width="1.6" stroke-linecap="butt"/>
<line x1="329.7" y1="339" x2="381" y2="339" stroke="#000" stroke-width="1.75" stroke-linecap="butt"/>
<line x1="382.2" y1="363.4" x2="444.2" y2="363.4" stroke="#000" stroke-width="1.75" stroke-linecap="butt"/>
<path d="M348.2 328.1L348.2 333.9M345.69 329.55L350.71 332.45M350.71 329.55L345.69 332.45" stroke="#000" stroke-width="1.35" fill="none"/>
<path d="M355.5 328.1L355.5 333.9M352.99 329.55L358.01 332.45M358.01 329.55L352.99 332.45" stroke="#000" stroke-width="1.35" fill="none"/>
<path d="M362.8 328.1L362.8 333.9M360.29 329.55L365.31 332.45M365.31 329.55L360.29 332.45" stroke="#000" stroke-width="1.35" fill="none"/>
<text x="412.9" y="357.5" font-family="'Liberation Sans', sans-serif" font-size="11.5" font-weight="bold" font-style="normal" text-anchor="middle" fill="#000">##</text>
<text x="0" y="0" font-family="'Liberation Sans', sans-serif" font-size="10" font-weight="bold" text-anchor="end" transform="translate(331.9 512) rotate(-45)">Veh</text>
<text x="0" y="0" font-family="'Liberation Sans', sans-serif" font-size="10" font-weight="bold" text-anchor="end" transform="translate(390 512) rotate(-45)">250µg DMI</text>
<text x="0" y="0" font-family="'Liberation Sans', sans-serif" font-size="10" font-weight="bold" text-anchor="end" transform="translate(448.5 512) rotate(-45)">250µg DMI + HC-030031</text>
<g transform="translate(502.7 307.9) scale(0.92 1)"><text x="0" y="0" font-family="'Liberation Serif', serif" font-size="31" font-weight="bold">G</text></g>
<text x="662.1" y="307" font-family="'Liberation Serif', serif" font-size="18" font-weight="bold" font-style="italic" textLength="39.8" lengthAdjust="spacingAndGlyphs">Trpa1</text>
<line x1="704.1" y1="294.5" x2="712.3" y2="294.5" stroke="#000" stroke-width="1.4" stroke-linecap="butt"/>
<line x1="712.8" y1="299.8" x2="719.8" y2="288.7" stroke="#000" stroke-width="1.4" stroke-linecap="butt"/>
<line x1="719.5" y1="294.5" x2="727.8" y2="294.5" stroke="#000" stroke-width="1.4" stroke-linecap="butt"/>
<line x1="543.2" y1="498.2" x2="543.2" y2="329" stroke="#000" stroke-width="1.6" stroke-linecap="butt"/>
<line x1="537.7" y1="497.4" x2="543.2" y2="497.4" stroke="#000" stroke-width="1.6" stroke-linecap="butt"/>
<text x="535.9" y="501.11" font-family="'Liberation Sans', sans-serif" font-size="10.3" font-weight="bold" font-style="normal" text-anchor="end" fill="#000">0.0</text>
<line x1="537.7" y1="463.72" x2="543.2" y2="463.72" stroke="#000" stroke-width="1.6" stroke-linecap="butt"/>
<text x="535.9" y="467.43" font-family="'Liberation Sans', sans-serif" font-size="10.3" font-weight="bold" font-style="normal" text-anchor="end" fill="#000">0.2</text>
<line x1="537.7" y1="430.04" x2="543.2" y2="430.04" stroke="#000" stroke-width="1.6" stroke-linecap="butt"/>
<text x="535.9" y="433.75" font-family="'Liberation Sans', sans-serif" font-size="10.3" font-weight="bold" font-style="normal" text-anchor="end" fill="#000">0.4</text>
<line x1="537.7" y1="396.36" x2="543.2" y2="396.36" stroke="#000" stroke-width="1.6" stroke-linecap="butt"/>
<text x="535.9" y="400.07" font-family="'Liberation Sans', sans-serif" font-size="10.3" font-weight="bold" font-style="normal" text-anchor="end" fill="#000">0.6</text>
<line x1="537.7" y1="362.68" x2="543.2" y2="362.68" stroke="#000" stroke-width="1.6" stroke-linecap="butt"/>
<text x="535.9" y="366.39" font-family="'Liberation Sans', sans-serif" font-size="10.3" font-weight="bold" font-style="normal" text-anchor="end" fill="#000">0.8</text>
<line x1="537.7" y1="329" x2="543.2" y2="329" stroke="#000" stroke-width="1.6" stroke-linecap="butt"/>
<text x="535.9" y="332.71" font-family="'Liberation Sans', sans-serif" font-size="10.3" font-weight="bold" font-style="normal" text-anchor="end" fill="#000">1.0</text>
<text x="0" y="0" font-family="'Liberation Sans', sans-serif" font-size="10.8" font-weight="bold" text-anchor="middle" transform="translate(516.6 413) rotate(-90)">Paw withdrawal threshold (g)</text>
<line x1="564.78" y1="400.06" x2="564.78" y2="415.22" stroke="#FF0000" stroke-width="1" stroke-linecap="butt"/>
<line x1="561.28" y1="400.06" x2="568.28" y2="400.06" stroke="#FF0000" stroke-width="1" stroke-linecap="butt"/>
<line x1="561.28" y1="415.22" x2="568.28" y2="415.22" stroke="#FF0000" stroke-width="1" stroke-linecap="butt"/>
<line x1="586.35" y1="396.36" x2="586.35" y2="407.47" stroke="#FF0000" stroke-width="1" stroke-linecap="butt"/>
<line x1="582.85" y1="396.36" x2="589.85" y2="396.36" stroke="#FF0000" stroke-width="1" stroke-linecap="butt"/>
<line x1="582.85" y1="407.47" x2="589.85" y2="407.47" stroke="#FF0000" stroke-width="1" stroke-linecap="butt"/>
<line x1="672.65" y1="359.99" x2="672.65" y2="387.94" stroke="#FF0000" stroke-width="1" stroke-linecap="butt"/>
<line x1="669.15" y1="359.99" x2="676.15" y2="359.99" stroke="#FF0000" stroke-width="1" stroke-linecap="butt"/>
<line x1="669.15" y1="387.94" x2="676.15" y2="387.94" stroke="#FF0000" stroke-width="1" stroke-linecap="butt"/>
<line x1="802.1" y1="373.79" x2="802.1" y2="396.36" stroke="#FF0000" stroke-width="1" stroke-linecap="butt"/>
<line x1="798.6" y1="373.79" x2="805.6" y2="373.79" stroke="#FF0000" stroke-width="1" stroke-linecap="butt"/>
<line x1="798.6" y1="396.36" x2="805.6" y2="396.36" stroke="#FF0000" stroke-width="1" stroke-linecap="butt"/>
<polyline points="543.2,373.96 564.78,407.64 586.35,401.92 629.5,390.8 672.65,373.96 802.1,385.08" fill="none" stroke="#FF0000" stroke-width="1" stroke-linejoin="round"/>
<rect x="539.6" y="370.36" width="7.2" height="7.2" fill="#FF0000"/>
<rect x="561.18" y="404.04" width="7.2" height="7.2" fill="#FF0000"/>
<rect x="582.75" y="398.32" width="7.2" height="7.2" fill="#FF0000"/>
<rect x="625.9" y="387.2" width="7.2" height="7.2" fill="#FF0000"/>
<rect x="669.05" y="370.36" width="7.2" height="7.2" fill="#FF0000"/>
<rect x="798.5" y="381.48" width="7.2" height="7.2" fill="#FF0000"/>
<line x1="543.2" y1="359.99" x2="543.2" y2="387.94" stroke="#0000FF" stroke-width="1" stroke-linecap="butt"/>
<line x1="539.7" y1="359.99" x2="546.7" y2="359.99" stroke="#0000FF" stroke-width="1" stroke-linecap="butt"/>
<line x1="539.7" y1="387.94" x2="546.7" y2="387.94" stroke="#0000FF" stroke-width="1" stroke-linecap="butt"/>
<line x1="564.78" y1="381.2" x2="564.78" y2="411.52" stroke="#0000FF" stroke-width="1" stroke-linecap="butt"/>
<line x1="561.28" y1="381.2" x2="568.28" y2="381.2" stroke="#0000FF" stroke-width="1" stroke-linecap="butt"/>
<line x1="561.28" y1="411.52" x2="568.28" y2="411.52" stroke="#0000FF" stroke-width="1" stroke-linecap="butt"/>
<line x1="586.35" y1="377.33" x2="586.35" y2="404.27" stroke="#0000FF" stroke-width="1" stroke-linecap="butt"/>
<line x1="582.85" y1="377.33" x2="589.85" y2="377.33" stroke="#0000FF" stroke-width="1" stroke-linecap="butt"/>
<line x1="582.85" y1="404.27" x2="589.85" y2="404.27" stroke="#0000FF" stroke-width="1" stroke-linecap="butt"/>
<line x1="629.5" y1="377.33" x2="629.5" y2="404.27" stroke="#0000FF" stroke-width="1" stroke-linecap="butt"/>
<line x1="626" y1="377.33" x2="633" y2="377.33" stroke="#0000FF" stroke-width="1" stroke-linecap="butt"/>
<line x1="626" y1="404.27" x2="633" y2="404.27" stroke="#0000FF" stroke-width="1" stroke-linecap="butt"/>
<line x1="672.65" y1="377.33" x2="672.65" y2="404.27" stroke="#0000FF" stroke-width="1" stroke-linecap="butt"/>
<line x1="669.15" y1="377.33" x2="676.15" y2="377.33" stroke="#0000FF" stroke-width="1" stroke-linecap="butt"/>
<line x1="669.15" y1="404.27" x2="676.15" y2="404.27" stroke="#0000FF" stroke-width="1" stroke-linecap="butt"/>
<polyline points="543.2,373.96 564.78,396.36 586.35,390.8 629.5,390.8 672.65,390.8 802.1,396.36" fill="none" stroke="#0000FF" stroke-width="1" stroke-linejoin="round"/>
<circle cx="543.2" cy="373.96" r="3.7" stroke="#0000FF" stroke-width="0" fill="#0000FF"/>
<circle cx="564.78" cy="396.36" r="3.7" stroke="#0000FF" stroke-width="0" fill="#0000FF"/>
<circle cx="586.35" cy="390.8" r="3.7" stroke="#0000FF" stroke-width="0" fill="#0000FF"/>
<circle cx="629.5" cy="390.8" r="3.7" stroke="#0000FF" stroke-width="0" fill="#0000FF"/>
<circle cx="672.65" cy="390.8" r="3.7" stroke="#0000FF" stroke-width="0" fill="#0000FF"/>
<circle cx="802.1" cy="396.36" r="3.7" stroke="#0000FF" stroke-width="0" fill="#0000FF"/>
<line x1="542.4" y1="497.4" x2="805" y2="497.4" stroke="#000" stroke-width="1.6" stroke-linecap="butt"/>
<line x1="543.2" y1="497.4" x2="543.2" y2="501.9" stroke="#000" stroke-width="1.6" stroke-linecap="butt"/>
<line x1="564.78" y1="497.4" x2="564.78" y2="500.4" stroke="#000" stroke-width="1.6" stroke-linecap="butt"/>
<line x1="586.35" y1="497.4" x2="586.35" y2="501.9" stroke="#000" stroke-width="1.6" stroke-linecap="butt"/>
<line x1="607.93" y1="497.4" x2="607.93" y2="500.4" stroke="#000" stroke-width="1.6" stroke-linecap="butt"/>
<line x1="629.5" y1="497.4" x2="629.5" y2="501.9" stroke="#000" stroke-width="1.6" stroke-linecap="butt"/>
<line x1="651.08" y1="497.4" x2="651.08" y2="500.4" stroke="#000" stroke-width="1.6" stroke-linecap="butt"/>
<line x1="672.65" y1="497.4" x2="672.65" y2="501.9" stroke="#000" stroke-width="1.6" stroke-linecap="butt"/>
<line x1="694.23" y1="497.4" x2="694.23" y2="500.4" stroke="#000" stroke-width="1.6" stroke-linecap="butt"/>
<line x1="715.8" y1="497.4" x2="715.8" y2="501.9" stroke="#000" stroke-width="1.6" stroke-linecap="butt"/>
<line x1="737.38" y1="497.4" x2="737.38" y2="500.4" stroke="#000" stroke-width="1.6" stroke-linecap="butt"/>
<line x1="758.95" y1="497.4" x2="758.95" y2="501.9" stroke="#000" stroke-width="1.6" stroke-linecap="butt"/>
<line x1="780.53" y1="497.4" x2="780.53" y2="500.4" stroke="#000" stroke-width="1.6" stroke-linecap="butt"/>
<line x1="802.1" y1="497.4" x2="802.1" y2="501.9" stroke="#000" stroke-width="1.6" stroke-linecap="butt"/>
<text x="543.2" y="513.8" font-family="'Liberation Sans', sans-serif" font-size="10.3" font-weight="bold" font-style="normal" text-anchor="middle" fill="#000">0</text>
<text x="586.35" y="513.8" font-family="'Liberation Sans', sans-serif" font-size="10.3" font-weight="bold" font-style="normal" text-anchor="middle" fill="#000">1</text>
<text x="629.5" y="513.8" font-family="'Liberation Sans', sans-serif" font-size="10.3" font-weight="bold" font-style="normal" text-anchor="middle" fill="#000">2</text>
<text x="672.65" y="513.8" font-family="'Liberation Sans', sans-serif" font-size="10.3" font-weight="bold" font-style="normal" text-anchor="middle" fill="#000">3</text>
<text x="715.8" y="513.8" font-family="'Liberation Sans', sans-serif" font-size="10.3" font-weight="bold" font-style="normal" text-anchor="middle" fill="#000">4</text>
<text x="758.95" y="513.8" font-family="'Liberation Sans', sans-serif" font-size="10.3" font-weight="bold" font-style="normal" text-anchor="middle" fill="#000">5</text>
<text x="802.1" y="513.8" font-family="'Liberation Sans', sans-serif" font-size="10.3" font-weight="bold" font-style="normal" text-anchor="middle" fill="#000">6</text>
<text x="672.7" y="531.2" font-family="'Liberation Sans', sans-serif" font-size="11.1" font-weight="bold" font-style="normal" text-anchor="middle" fill="#000">Time(h)</text>
<line x1="720.7" y1="326" x2="735.9" y2="326" stroke="#0000FF" stroke-width="1" stroke-linecap="butt"/>
<circle cx="728.3" cy="326" r="3" stroke="#0000FF" stroke-width="0" fill="#0000FF"/>
<text x="745.5" y="329.9" font-family="'Liberation Sans', sans-serif" font-size="10.8" fill="#000">Veh</text>
<line x1="720.7" y1="343.5" x2="735.9" y2="343.5" stroke="#FF0000" stroke-width="1" stroke-linecap="butt"/>
<rect x="725.3" y="340.5" width="6" height="6" fill="#FF0000"/>
<text x="742.5" y="347.4" font-family="'Liberation Sans', sans-serif" font-size="10.8" fill="#000">250µg DMI</text>
<g transform="translate(818.6 308.5) scale(0.92 1)"><text x="0" y="0" font-family="'Liberation Serif', serif" font-size="31" font-weight="bold">H</text></g>
<text x="915.9" y="307" font-family="'Liberation Serif', serif" font-size="18" font-weight="bold" font-style="italic" textLength="39.8" lengthAdjust="spacingAndGlyphs">Trpa1</text>
<line x1="957.9" y1="294.5" x2="966.1" y2="294.5" stroke="#000" stroke-width="1.4" stroke-linecap="butt"/>
<line x1="966.6" y1="299.8" x2="973.6" y2="288.7" stroke="#000" stroke-width="1.4" stroke-linecap="butt"/>
<line x1="973.3" y1="294.5" x2="981.6" y2="294.5" stroke="#000" stroke-width="1.4" stroke-linecap="butt"/>
<text x="0" y="0" font-family="'Liberation Sans', sans-serif" font-size="11.8" font-weight="bold" text-anchor="middle" transform="translate(852.6 416.5) rotate(-90)">Area under the Curve</text>
<line x1="869.9" y1="509" x2="869.9" y2="325.2" stroke="#000" stroke-width="1.6" stroke-linecap="butt"/>
<line x1="864.9" y1="508.2" x2="869.9" y2="508.2" stroke="#000" stroke-width="1.6" stroke-linecap="butt"/>
<text x="862.4" y="511.8" font-family="'Liberation Sans', sans-serif" font-size="10" font-weight="bold" font-style="normal" text-anchor="end" fill="#000">0</text>
<line x1="864.9" y1="471.6" x2="869.9" y2="471.6" stroke="#000" stroke-width="1.6" stroke-linecap="butt"/>
<text x="862.4" y="475.2" font-family="'Liberation Sans', sans-serif" font-size="10" font-weight="bold" font-style="normal" text-anchor="end" fill="#000">1</text>
<line x1="864.9" y1="435" x2="869.9" y2="435" stroke="#000" stroke-width="1.6" stroke-linecap="butt"/>
<text x="862.4" y="438.6" font-family="'Liberation Sans', sans-serif" font-size="10" font-weight="bold" font-style="normal" text-anchor="end" fill="#000">2</text>
<line x1="864.9" y1="398.4" x2="869.9" y2="398.4" stroke="#000" stroke-width="1.6" stroke-linecap="butt"/>
<text x="862.4" y="402" font-family="'Liberation Sans', sans-serif" font-size="10" font-weight="bold" font-style="normal" text-anchor="end" fill="#000">3</text>
<line x1="864.9" y1="361.8" x2="869.9" y2="361.8" stroke="#000" stroke-width="1.6" stroke-linecap="butt"/>
<text x="862.4" y="365.4" font-family="'Liberation Sans', sans-serif" font-size="10" font-weight="bold" font-style="normal" text-anchor="end" fill="#000">4</text>
<line x1="864.9" y1="325.2" x2="869.9" y2="325.2" stroke="#000" stroke-width="1.6" stroke-linecap="butt"/>
<text x="862.4" y="328.8" font-family="'Liberation Sans', sans-serif" font-size="10" font-weight="bold" font-style="normal" text-anchor="end" fill="#000">5</text>
<path d="M892.1 508.2V393.86H931.7V508.2" fill="none" stroke="#0000FF" stroke-width="1.9" stroke-linejoin="miter"/>
<path d="M954.2 508.2V393.86H993.8V508.2" fill="none" stroke="#FF0000" stroke-width="1.9" stroke-linejoin="miter"/>
<line x1="911.9" y1="382.66" x2="911.9" y2="402.43" stroke="#0000FF" stroke-width="1" stroke-linecap="butt"/>
<line x1="902.15" y1="382.66" x2="921.65" y2="382.66" stroke="#0000FF" stroke-width="1" stroke-linecap="butt"/>
<line x1="902.15" y1="402.43" x2="921.65" y2="402.43" stroke="#0000FF" stroke-width="1" stroke-linecap="butt"/>
<circle cx="904.2" cy="361.8" r="2" stroke="#0000FF" stroke-width="1.3" fill="none"/>
<circle cx="919.2" cy="361.8" r="2" stroke="#0000FF" stroke-width="1.3" fill="none"/>
<circle cx="904.2" cy="405.72" r="2" stroke="#0000FF" stroke-width="1.3" fill="none"/>
<circle cx="911.9" cy="405.72" r="2" stroke="#0000FF" stroke-width="1.3" fill="none"/>
<circle cx="919.2" cy="405.72" r="2" stroke="#0000FF" stroke-width="1.3" fill="none"/>
<circle cx="911.9" cy="413.04" r="2" stroke="#0000FF" stroke-width="1.3" fill="none"/>
<line x1="974" y1="383.76" x2="974" y2="401.33" stroke="#FF0000" stroke-width="1" stroke-linecap="butt"/>
<line x1="964.25" y1="383.76" x2="983.75" y2="383.76" stroke="#FF0000" stroke-width="1" stroke-linecap="butt"/>
<line x1="964.25" y1="401.33" x2="983.75" y2="401.33" stroke="#FF0000" stroke-width="1" stroke-linecap="butt"/>
<circle cx="974" cy="361.8" r="2" stroke="#FF0000" stroke-width="1.3" fill="none"/>
<circle cx="974" cy="369.12" r="2" stroke="#FF0000" stroke-width="1.3" fill="none"/>
<circle cx="974" cy="398.4" r="2" stroke="#FF0000" stroke-width="1.3" fill="none"/>
<circle cx="974" cy="405.72" r="2" stroke="#FF0000" stroke-width="1.3" fill="none"/>
<circle cx="981.2" cy="405.72" r="2" stroke="#FF0000" stroke-width="1.3" fill="none"/>
<circle cx="974" cy="413.04" r="2" stroke="#FF0000" stroke-width="1.3" fill="none"/>
<line x1="869.1" y1="508.2" x2="1015.7" y2="508.2" stroke="#000" stroke-width="1.6" stroke-linecap="butt"/>
<line x1="911.9" y1="508.2" x2="911.9" y2="513.8" stroke="#000" stroke-width="1.6" stroke-linecap="butt"/>
<line x1="974" y1="508.2" x2="974" y2="513.8" stroke="#000" stroke-width="1.6" stroke-linecap="butt"/>
<line x1="911.9" y1="348.9" x2="974" y2="348.9" stroke="#000" stroke-width="1.75" stroke-linecap="butt"/>
<text x="942.6" y="342.6" font-family="'Liberation Sans', sans-serif" font-size="11.5" font-weight="normal" font-style="normal" text-anchor="middle" fill="#000">ns</text>
<text x="911.9" y="525.6" font-family="'Liberation Sans', sans-serif" font-size="12" font-weight="bold" font-style="normal" text-anchor="middle" fill="#000">Veh</text>
<text x="974" y="525.6" font-family="'Liberation Sans', sans-serif" font-size="12" font-weight="bold" font-style="normal" text-anchor="middle" fill="#000">250µg DMI</text>
<g transform="translate(1.2 596.6) scale(0.92 1)"><text x="0" y="0" font-family="'Liberation Serif', serif" font-size="31" font-weight="bold">I</text></g>
<text x="115.8" y="643.1" font-family="'Liberation Sans', sans-serif" font-size="17" font-weight="bold" font-style="normal" text-anchor="middle" fill="#2F5597">Single repeated</text>
<text x="115.8" y="663.6" font-family="'Liberation Sans', sans-serif" font-size="17" font-weight="bold" font-style="normal" text-anchor="middle" fill="#2F5597">injection for three days</text>
<rect x="327.5" y="622.4" width="208.4" height="50.0" fill="none" stroke="#000" stroke-width="1.5"/>
<line x1="327.5" y1="647.5" x2="535.9" y2="647.5" stroke="#000" stroke-width="1.5" stroke-linecap="butt"/>
<text x="336.6" y="639.1" font-family="'Liberation Sans', sans-serif" font-size="13.5" font-weight="bold" xml:space="preserve" textLength="189.6" lengthAdjust="spacing">Plantar Injection of  Veh / DMI</text>
<text x="336.6" y="664.9" font-family="'Liberation Sans', sans-serif" font-size="13.5" font-weight="bold" font-style="normal" text-anchor="start" fill="#000">von Frey</text>
<line x1="275.5" y1="634.8" x2="298.5" y2="634.8" stroke="#ED7D31" stroke-width="2.9" stroke-linecap="butt"/>
<polygon points="305.5,634.8 297,630.7 297,638.9" fill="#ED7D31" stroke="none" stroke-width="0"/>
<line x1="275.5" y1="662.6" x2="299.5" y2="662.6" stroke="#70AD47" stroke-width="2.9" stroke-linecap="butt"/>
<polygon points="306.5,662.6 298,658.5 298,666.7" fill="#70AD47" stroke="none" stroke-width="0"/>
<line x1="95.5" y1="748.3" x2="334" y2="748.3" stroke="#000" stroke-width="6.4" stroke-linecap="butt"/>
<polygon points="353.8,748.3 333.5,737.7 333.5,758.9" fill="#000" stroke="none" stroke-width="0"/>
<line x1="139" y1="730.2" x2="139" y2="766.7" stroke="#000" stroke-width="2.6" stroke-linecap="butt"/>
<text x="139" y="785.4" font-family="'Liberation Sans', sans-serif" font-size="13.5" font-weight="bold" font-style="normal" text-anchor="middle" fill="#000">1</text>
<line x1="139" y1="696.2" x2="139" y2="716.4" stroke="#ED7D31" stroke-width="2.9" stroke-linecap="butt"/>
<polygon points="139,723.4 134.4,714.2 143.6,714.2" fill="#ED7D31" stroke="none" stroke-width="0"/>
<line x1="139" y1="821.6" x2="139" y2="797.8" stroke="#70AD47" stroke-width="2.9" stroke-linecap="butt"/>
<polygon points="139,790.8 134.4,800 143.6,800" fill="#70AD47" stroke="none" stroke-width="0"/>
<line x1="207.8" y1="730.2" x2="207.8" y2="766.7" stroke="#000" stroke-width="2.6" stroke-linecap="butt"/>
<text x="207.8" y="785.4" font-family="'Liberation Sans', sans-serif" font-size="13.5" font-weight="bold" font-style="normal" text-anchor="middle" fill="#000">2</text>
<line x1="207.8" y1="696.2" x2="207.8" y2="716.4" stroke="#ED7D31" stroke-width="2.9" stroke-linecap="butt"/>
<polygon points="207.8,723.4 203.2,714.2 212.4,714.2" fill="#ED7D31" stroke="none" stroke-width="0"/>
<line x1="207.8" y1="821.6" x2="207.8" y2="797.8" stroke="#70AD47" stroke-width="2.9" stroke-linecap="butt"/>
<polygon points="207.8,790.8 203.2,800 212.4,800" fill="#70AD47" stroke="none" stroke-width="0"/>
<line x1="279.5" y1="730.2" x2="279.5" y2="766.7" stroke="#000" stroke-width="2.6" stroke-linecap="butt"/>
<text x="279.5" y="785.4" font-family="'Liberation Sans', sans-serif" font-size="13.5" font-weight="bold" font-style="normal" text-anchor="middle" fill="#000">3</text>
<line x1="279.5" y1="696.2" x2="279.5" y2="716.4" stroke="#ED7D31" stroke-width="2.9" stroke-linecap="butt"/>
<polygon points="279.5,723.4 274.9,714.2 284.1,714.2" fill="#ED7D31" stroke="none" stroke-width="0"/>
<line x1="279.5" y1="821.6" x2="279.5" y2="797.8" stroke="#70AD47" stroke-width="2.9" stroke-linecap="butt"/>
<polygon points="279.5,790.8 274.9,800 284.1,800" fill="#70AD47" stroke="none" stroke-width="0"/>
<text x="331.5" y="785.2" font-family="'Liberation Sans', sans-serif" font-size="12.8" font-weight="bold" font-style="normal" text-anchor="start" fill="#000">Days</text>
<g transform="translate(544.8 596.6) scale(0.92 1)"><text x="0" y="0" font-family="'Liberation Serif', serif" font-size="31" font-weight="bold">J</text></g>
<text x="0" y="0" font-family="'Liberation Sans', sans-serif" font-size="13.9" font-weight="bold" text-anchor="middle" transform="translate(584.9 715.3) rotate(-90)">Paw withdrawal threshold (g)</text>
<path d="M627.15 838.5V741.05H638.85V838.5" fill="none" stroke="#0000FF" stroke-width="2.5" stroke-linejoin="miter"/>
<path d="M648.95 838.5V730.19H660.65V838.5" fill="none" stroke="#FF0000" stroke-width="2.5" stroke-linejoin="miter"/>
<path d="M670.45 838.5V747.14H682.15V838.5" fill="none" stroke="#00BE00" stroke-width="2.5" stroke-linejoin="miter"/>
<path d="M692.05 838.5V724.6H703.75V838.5" fill="none" stroke="#A000EE" stroke-width="2.5" stroke-linejoin="miter"/>
<path d="M728.65 838.5V758.16H740.35V838.5" fill="none" stroke="#0000FF" stroke-width="2.5" stroke-linejoin="miter"/>
<path d="M750.45 838.5V780.2H762.15V838.5" fill="none" stroke="#FF0000" stroke-width="2.5" stroke-linejoin="miter"/>
<path d="M771.95 838.5V821.82H783.65V838.5" fill="none" stroke="#00BE00" stroke-width="2.5" stroke-linejoin="miter"/>
<path d="M793.55 838.5V822.31H805.25V838.5" fill="none" stroke="#A000EE" stroke-width="2.5" stroke-linejoin="miter"/>
<path d="M830.15 838.5V758.16H841.85V838.5" fill="none" stroke="#0000FF" stroke-width="2.5" stroke-linejoin="miter"/>
<path d="M851.95 838.5V773.95H863.65V838.5" fill="none" stroke="#FF0000" stroke-width="2.5" stroke-linejoin="miter"/>
<path d="M873.45 838.5V791.22H885.15V838.5" fill="none" stroke="#00BE00" stroke-width="2.5" stroke-linejoin="miter"/>
<path d="M895.05 838.5V793.69H906.75V838.5" fill="none" stroke="#A000EE" stroke-width="2.5" stroke-linejoin="miter"/>
<path d="M931.65 838.5V763.59H943.35V838.5" fill="none" stroke="#0000FF" stroke-width="2.5" stroke-linejoin="miter"/>
<path d="M953.45 838.5V776.75H965.15V838.5" fill="none" stroke="#FF0000" stroke-width="2.5" stroke-linejoin="miter"/>
<path d="M974.95 838.5V789.25H986.65V838.5" fill="none" stroke="#00BE00" stroke-width="2.5" stroke-linejoin="miter"/>
<path d="M996.55 838.5V796.16H1008.25V838.5" fill="none" stroke="#A000EE" stroke-width="2.5" stroke-linejoin="miter"/>
<line x1="633" y1="725" x2="633" y2="754.61" stroke="#0000FF" stroke-width="1.2" stroke-linecap="butt"/>
<line x1="628.5" y1="725" x2="637.5" y2="725" stroke="#0000FF" stroke-width="1.2" stroke-linecap="butt"/>
<line x1="628.5" y1="754.61" x2="637.5" y2="754.61" stroke="#0000FF" stroke-width="1.2" stroke-linecap="butt"/>
<circle cx="633" cy="674" r="2.5" stroke="#0000FF" stroke-width="1.6" fill="none"/>
<circle cx="627.4" cy="739.8" r="2.5" stroke="#0000FF" stroke-width="1.6" fill="none"/>
<circle cx="633" cy="739.8" r="2.5" stroke="#0000FF" stroke-width="1.6" fill="none"/>
<circle cx="637.9" cy="739.8" r="2.5" stroke="#0000FF" stroke-width="1.6" fill="none"/>
<circle cx="629" cy="772.7" r="2.5" stroke="#0000FF" stroke-width="1.6" fill="none"/>
<circle cx="637.9" cy="772.7" r="2.5" stroke="#0000FF" stroke-width="1.6" fill="none"/>
<line x1="654.8" y1="710.19" x2="654.8" y2="747.53" stroke="#FF0000" stroke-width="1.2" stroke-linecap="butt"/>
<line x1="650.3" y1="710.19" x2="659.3" y2="710.19" stroke="#FF0000" stroke-width="1.2" stroke-linecap="butt"/>
<line x1="650.3" y1="747.53" x2="659.3" y2="747.53" stroke="#FF0000" stroke-width="1.2" stroke-linecap="butt"/>
<circle cx="650" cy="674" r="2.5" stroke="#FF0000" stroke-width="1.6" fill="none"/>
<circle cx="658.9" cy="674" r="2.5" stroke="#FF0000" stroke-width="1.6" fill="none"/>
<circle cx="654.8" cy="739.8" r="2.5" stroke="#FF0000" stroke-width="1.6" fill="none"/>
<circle cx="658.9" cy="739.8" r="2.5" stroke="#FF0000" stroke-width="1.6" fill="none"/>
<circle cx="650" cy="772.7" r="2.5" stroke="#FF0000" stroke-width="1.6" fill="none"/>
<circle cx="658.9" cy="772.7" r="2.5" stroke="#FF0000" stroke-width="1.6" fill="none"/>
<line x1="676.3" y1="739.31" x2="676.3" y2="750.82" stroke="#00BE00" stroke-width="1.2" stroke-linecap="butt"/>
<line x1="671.8" y1="739.31" x2="680.8" y2="739.31" stroke="#00BE00" stroke-width="1.2" stroke-linecap="butt"/>
<line x1="671.8" y1="750.82" x2="680.8" y2="750.82" stroke="#00BE00" stroke-width="1.2" stroke-linecap="butt"/>
<circle cx="671.3" cy="739.8" r="2.5" stroke="#00BE00" stroke-width="1.6" fill="none"/>
<circle cx="673.8" cy="739.8" r="2.5" stroke="#00BE00" stroke-width="1.6" fill="none"/>
<circle cx="676.3" cy="739.8" r="2.5" stroke="#00BE00" stroke-width="1.6" fill="none"/>
<circle cx="678.8" cy="739.8" r="2.5" stroke="#00BE00" stroke-width="1.6" fill="none"/>
<circle cx="681.3" cy="739.8" r="2.5" stroke="#00BE00" stroke-width="1.6" fill="none"/>
<circle cx="676.3" cy="772.7" r="2.5" stroke="#00BE00" stroke-width="1.6" fill="none"/>
<line x1="697.9" y1="706.9" x2="697.9" y2="739.8" stroke="#A000EE" stroke-width="1.2" stroke-linecap="butt"/>
<line x1="693.4" y1="706.9" x2="702.4" y2="706.9" stroke="#A000EE" stroke-width="1.2" stroke-linecap="butt"/>
<line x1="693.4" y1="739.8" x2="702.4" y2="739.8" stroke="#A000EE" stroke-width="1.2" stroke-linecap="butt"/>
<circle cx="695.9" cy="674" r="2.5" stroke="#A000EE" stroke-width="1.6" fill="none"/>
<circle cx="699.9" cy="674" r="2.5" stroke="#A000EE" stroke-width="1.6" fill="none"/>
<circle cx="692.7" cy="739.8" r="2.5" stroke="#A000EE" stroke-width="1.6" fill="none"/>
<circle cx="697.9" cy="739.8" r="2.5" stroke="#A000EE" stroke-width="1.6" fill="none"/>
<circle cx="702.7" cy="739.8" r="2.5" stroke="#A000EE" stroke-width="1.6" fill="none"/>
<circle cx="697.9" cy="772.7" r="2.5" stroke="#A000EE" stroke-width="1.6" fill="none"/>
<line x1="734.5" y1="748.68" x2="734.5" y2="764.31" stroke="#0000FF" stroke-width="1.2" stroke-linecap="butt"/>
<line x1="730" y1="748.68" x2="739" y2="748.68" stroke="#0000FF" stroke-width="1.2" stroke-linecap="butt"/>
<line x1="730" y1="764.31" x2="739" y2="764.31" stroke="#0000FF" stroke-width="1.2" stroke-linecap="butt"/>
<circle cx="729.6" cy="739.8" r="2.5" stroke="#0000FF" stroke-width="1.6" fill="none"/>
<circle cx="734.5" cy="739.8" r="2.5" stroke="#0000FF" stroke-width="1.6" fill="none"/>
<circle cx="739.4" cy="739.8" r="2.5" stroke="#0000FF" stroke-width="1.6" fill="none"/>
<circle cx="729.6" cy="772.7" r="2.5" stroke="#0000FF" stroke-width="1.6" fill="none"/>
<circle cx="734.5" cy="772.7" r="2.5" stroke="#0000FF" stroke-width="1.6" fill="none"/>
<circle cx="739.4" cy="772.7" r="2.5" stroke="#0000FF" stroke-width="1.6" fill="none"/>
<line x1="756.3" y1="762.5" x2="756.3" y2="793.76" stroke="#FF0000" stroke-width="1.2" stroke-linecap="butt"/>
<line x1="751.8" y1="762.5" x2="760.8" y2="762.5" stroke="#FF0000" stroke-width="1.2" stroke-linecap="butt"/>
<line x1="751.8" y1="793.76" x2="760.8" y2="793.76" stroke="#FF0000" stroke-width="1.2" stroke-linecap="butt"/>
<circle cx="751.4" cy="739.8" r="2.5" stroke="#FF0000" stroke-width="1.6" fill="none"/>
<circle cx="756.3" cy="739.8" r="2.5" stroke="#FF0000" stroke-width="1.6" fill="none"/>
<circle cx="751.4" cy="772.7" r="2.5" stroke="#FF0000" stroke-width="1.6" fill="none"/>
<circle cx="756.3" cy="772.7" r="2.5" stroke="#FF0000" stroke-width="1.6" fill="none"/>
<circle cx="756.3" cy="812.18" r="2.5" stroke="#FF0000" stroke-width="1.6" fill="none"/>
<circle cx="756.3" cy="831.92" r="2.5" stroke="#FF0000" stroke-width="1.6" fill="none"/>
<line x1="777.8" y1="809.38" x2="777.8" y2="830.44" stroke="#00BE00" stroke-width="1.2" stroke-linecap="butt"/>
<line x1="773.3" y1="809.38" x2="782.3" y2="809.38" stroke="#00BE00" stroke-width="1.2" stroke-linecap="butt"/>
<line x1="773.3" y1="830.44" x2="782.3" y2="830.44" stroke="#00BE00" stroke-width="1.2" stroke-linecap="butt"/>
<circle cx="776.4" cy="772.7" r="2.5" stroke="#00BE00" stroke-width="1.6" fill="none"/>
<circle cx="776.4" cy="812.18" r="2.5" stroke="#00BE00" stroke-width="1.6" fill="none"/>
<circle cx="773.6" cy="831.92" r="2.5" stroke="#00BE00" stroke-width="1.6" fill="none"/>
<circle cx="777.8" cy="831.92" r="2.5" stroke="#00BE00" stroke-width="1.6" fill="none"/>
<circle cx="782.3" cy="831.92" r="2.5" stroke="#00BE00" stroke-width="1.6" fill="none"/>
<circle cx="773.6" cy="835.21" r="2.5" stroke="#00BE00" stroke-width="1.6" fill="none"/>
<line x1="799.4" y1="810.04" x2="799.4" y2="830.93" stroke="#A000EE" stroke-width="1.2" stroke-linecap="butt"/>
<line x1="794.9" y1="810.04" x2="803.9" y2="810.04" stroke="#A000EE" stroke-width="1.2" stroke-linecap="butt"/>
<line x1="794.9" y1="830.93" x2="803.9" y2="830.93" stroke="#A000EE" stroke-width="1.2" stroke-linecap="butt"/>
<circle cx="799.4" cy="772.7" r="2.5" stroke="#A000EE" stroke-width="1.6" fill="none"/>
<circle cx="799.4" cy="812.18" r="2.5" stroke="#A000EE" stroke-width="1.6" fill="none"/>
<circle cx="794.4" cy="831.92" r="2.5" stroke="#A000EE" stroke-width="1.6" fill="none"/>
<circle cx="799.4" cy="831.92" r="2.5" stroke="#A000EE" stroke-width="1.6" fill="none"/>
<circle cx="804.4" cy="831.92" r="2.5" stroke="#A000EE" stroke-width="1.6" fill="none"/>
<circle cx="794.4" cy="838.5" r="2.5" stroke="#A000EE" stroke-width="1.6" fill="none"/>
<line x1="836" y1="748.68" x2="836" y2="764.31" stroke="#0000FF" stroke-width="1.2" stroke-linecap="butt"/>
<line x1="831.5" y1="748.68" x2="840.5" y2="748.68" stroke="#0000FF" stroke-width="1.2" stroke-linecap="butt"/>
<line x1="831.5" y1="764.31" x2="840.5" y2="764.31" stroke="#0000FF" stroke-width="1.2" stroke-linecap="butt"/>
<circle cx="830.4" cy="739.8" r="2.5" stroke="#0000FF" stroke-width="1.6" fill="none"/>
<circle cx="836" cy="739.8" r="2.5" stroke="#0000FF" stroke-width="1.6" fill="none"/>
<circle cx="840.9" cy="739.8" r="2.5" stroke="#0000FF" stroke-width="1.6" fill="none"/>
<circle cx="830.4" cy="772.7" r="2.5" stroke="#0000FF" stroke-width="1.6" fill="none"/>
<circle cx="836" cy="772.7" r="2.5" stroke="#0000FF" stroke-width="1.6" fill="none"/>
<circle cx="840.9" cy="772.7" r="2.5" stroke="#0000FF" stroke-width="1.6" fill="none"/>
<line x1="857.8" y1="755.76" x2="857.8" y2="788" stroke="#FF0000" stroke-width="1.2" stroke-linecap="butt"/>
<line x1="853.3" y1="755.76" x2="862.3" y2="755.76" stroke="#FF0000" stroke-width="1.2" stroke-linecap="butt"/>
<line x1="853.3" y1="788" x2="862.3" y2="788" stroke="#FF0000" stroke-width="1.2" stroke-linecap="butt"/>
<circle cx="852.8" cy="739.8" r="2.5" stroke="#FF0000" stroke-width="1.6" fill="none"/>
<circle cx="857.8" cy="739.8" r="2.5" stroke="#FF0000" stroke-width="1.6" fill="none"/>
<circle cx="862.7" cy="739.8" r="2.5" stroke="#FF0000" stroke-width="1.6" fill="none"/>
<circle cx="857.8" cy="772.7" r="2.5" stroke="#FF0000" stroke-width="1.6" fill="none"/>
<circle cx="857.8" cy="812.18" r="2.5" stroke="#FF0000" stroke-width="1.6" fill="none"/>
<circle cx="857.8" cy="826.99" r="2.5" stroke="#FF0000" stroke-width="1.6" fill="none"/>
<line x1="879.3" y1="772.7" x2="879.3" y2="807.25" stroke="#00BE00" stroke-width="1.2" stroke-linecap="butt"/>
<line x1="874.8" y1="772.7" x2="883.8" y2="772.7" stroke="#00BE00" stroke-width="1.2" stroke-linecap="butt"/>
<line x1="874.8" y1="807.25" x2="883.8" y2="807.25" stroke="#00BE00" stroke-width="1.2" stroke-linecap="butt"/>
<circle cx="874.6" cy="739.8" r="2.5" stroke="#00BE00" stroke-width="1.6" fill="none"/>
<circle cx="879.3" cy="739.8" r="2.5" stroke="#00BE00" stroke-width="1.6" fill="none"/>
<circle cx="879.3" cy="772.7" r="2.5" stroke="#00BE00" stroke-width="1.6" fill="none"/>
<circle cx="879.3" cy="812.18" r="2.5" stroke="#00BE00" stroke-width="1.6" fill="none"/>
<circle cx="874.6" cy="835.21" r="2.5" stroke="#00BE00" stroke-width="1.6" fill="none"/>
<circle cx="884" cy="835.21" r="2.5" stroke="#00BE00" stroke-width="1.6" fill="none"/>
<line x1="900.9" y1="772.7" x2="900.9" y2="809.71" stroke="#A000EE" stroke-width="1.2" stroke-linecap="butt"/>
<line x1="896.4" y1="772.7" x2="905.4" y2="772.7" stroke="#A000EE" stroke-width="1.2" stroke-linecap="butt"/>
<line x1="896.4" y1="809.71" x2="905.4" y2="809.71" stroke="#A000EE" stroke-width="1.2" stroke-linecap="butt"/>
<circle cx="896" cy="739.8" r="2.5" stroke="#A000EE" stroke-width="1.6" fill="none"/>
<circle cx="900.9" cy="739.8" r="2.5" stroke="#A000EE" stroke-width="1.6" fill="none"/>
<circle cx="900.9" cy="772.7" r="2.5" stroke="#A000EE" stroke-width="1.6" fill="none"/>
<circle cx="896" cy="831.92" r="2.5" stroke="#A000EE" stroke-width="1.6" fill="none"/>
<circle cx="900.9" cy="831.92" r="2.5" stroke="#A000EE" stroke-width="1.6" fill="none"/>
<circle cx="906" cy="831.92" r="2.5" stroke="#A000EE" stroke-width="1.6" fill="none"/>
<line x1="937.5" y1="754.11" x2="937.5" y2="770.56" stroke="#0000FF" stroke-width="1.2" stroke-linecap="butt"/>
<line x1="933" y1="754.11" x2="942" y2="754.11" stroke="#0000FF" stroke-width="1.2" stroke-linecap="butt"/>
<line x1="933" y1="770.56" x2="942" y2="770.56" stroke="#0000FF" stroke-width="1.2" stroke-linecap="butt"/>
<circle cx="935.8" cy="739.8" r="2.5" stroke="#0000FF" stroke-width="1.6" fill="none"/>
<circle cx="939.2" cy="739.8" r="2.5" stroke="#0000FF" stroke-width="1.6" fill="none"/>
<circle cx="932.5" cy="772.7" r="2.5" stroke="#0000FF" stroke-width="1.6" fill="none"/>
<circle cx="935" cy="772.7" r="2.5" stroke="#0000FF" stroke-width="1.6" fill="none"/>
<circle cx="937.5" cy="772.7" r="2.5" stroke="#0000FF" stroke-width="1.6" fill="none"/>
<circle cx="940" cy="772.7" r="2.5" stroke="#0000FF" stroke-width="1.6" fill="none"/>
<circle cx="942.5" cy="772.7" r="2.5" stroke="#0000FF" stroke-width="1.6" fill="none"/>
<line x1="959.3" y1="761.51" x2="959.3" y2="789.48" stroke="#FF0000" stroke-width="1.2" stroke-linecap="butt"/>
<line x1="954.8" y1="761.51" x2="963.8" y2="761.51" stroke="#FF0000" stroke-width="1.2" stroke-linecap="butt"/>
<line x1="954.8" y1="789.48" x2="963.8" y2="789.48" stroke="#FF0000" stroke-width="1.2" stroke-linecap="butt"/>
<circle cx="954.6" cy="739.8" r="2.5" stroke="#FF0000" stroke-width="1.6" fill="none"/>
<circle cx="959.8" cy="739.8" r="2.5" stroke="#FF0000" stroke-width="1.6" fill="none"/>
<circle cx="954.6" cy="772.7" r="2.5" stroke="#FF0000" stroke-width="1.6" fill="none"/>
<circle cx="959.8" cy="772.7" r="2.5" stroke="#FF0000" stroke-width="1.6" fill="none"/>
<circle cx="954.6" cy="812.18" r="2.5" stroke="#FF0000" stroke-width="1.6" fill="none"/>
<circle cx="964.3" cy="812.18" r="2.5" stroke="#FF0000" stroke-width="1.6" fill="none"/>
<line x1="980.8" y1="772.7" x2="980.8" y2="802.8" stroke="#00BE00" stroke-width="1.2" stroke-linecap="butt"/>
<line x1="976.3" y1="772.7" x2="985.3" y2="772.7" stroke="#00BE00" stroke-width="1.2" stroke-linecap="butt"/>
<line x1="976.3" y1="802.8" x2="985.3" y2="802.8" stroke="#00BE00" stroke-width="1.2" stroke-linecap="butt"/>
<circle cx="977.5" cy="739.8" r="2.5" stroke="#00BE00" stroke-width="1.6" fill="none"/>
<circle cx="982.4" cy="739.8" r="2.5" stroke="#00BE00" stroke-width="1.6" fill="none"/>
<circle cx="980.8" cy="772.7" r="2.5" stroke="#00BE00" stroke-width="1.6" fill="none"/>
<circle cx="980.8" cy="812.18" r="2.5" stroke="#00BE00" stroke-width="1.6" fill="none"/>
<circle cx="975" cy="831.92" r="2.5" stroke="#00BE00" stroke-width="1.6" fill="none"/>
<circle cx="986.1" cy="826.99" r="2.5" stroke="#00BE00" stroke-width="1.6" fill="none"/>
<line x1="1002.4" y1="778.46" x2="1002.4" y2="811.36" stroke="#A000EE" stroke-width="1.2" stroke-linecap="butt"/>
<line x1="997.9" y1="778.46" x2="1006.9" y2="778.46" stroke="#A000EE" stroke-width="1.2" stroke-linecap="butt"/>
<line x1="997.9" y1="811.36" x2="1006.9" y2="811.36" stroke="#A000EE" stroke-width="1.2" stroke-linecap="butt"/>
<circle cx="1002.4" cy="739.8" r="2.5" stroke="#A000EE" stroke-width="1.6" fill="none"/>
<circle cx="1000.4" cy="772.7" r="2.5" stroke="#A000EE" stroke-width="1.6" fill="none"/>
<circle cx="1006.3" cy="772.7" r="2.5" stroke="#A000EE" stroke-width="1.6" fill="none"/>
<circle cx="1002.4" cy="812.18" r="2.5" stroke="#A000EE" stroke-width="1.6" fill="none"/>
<circle cx="998" cy="831.92" r="2.5" stroke="#A000EE" stroke-width="1.6" fill="none"/>
<circle cx="1007.3" cy="831.92" r="2.5" stroke="#A000EE" stroke-width="1.6" fill="none"/>
<line x1="618.5" y1="839.8" x2="618.5" y2="591.75" stroke="#000" stroke-width="2.6" stroke-linecap="butt"/>
<line x1="611.5" y1="838.5" x2="618.5" y2="838.5" stroke="#000" stroke-width="2.6" stroke-linecap="butt"/>
<text x="609.3" y="843.18" font-family="'Liberation Sans', sans-serif" font-size="13" font-weight="bold" font-style="normal" text-anchor="end" fill="#000">0.0</text>
<line x1="611.5" y1="756.25" x2="618.5" y2="756.25" stroke="#000" stroke-width="2.6" stroke-linecap="butt"/>
<text x="609.3" y="760.93" font-family="'Liberation Sans', sans-serif" font-size="13" font-weight="bold" font-style="normal" text-anchor="end" fill="#000">0.5</text>
<line x1="611.5" y1="674" x2="618.5" y2="674" stroke="#000" stroke-width="2.6" stroke-linecap="butt"/>
<text x="609.3" y="678.68" font-family="'Liberation Sans', sans-serif" font-size="13" font-weight="bold" font-style="normal" text-anchor="end" fill="#000">1.0</text>
<line x1="611.5" y1="591.75" x2="618.5" y2="591.75" stroke="#000" stroke-width="2.6" stroke-linecap="butt"/>
<text x="609.3" y="596.43" font-family="'Liberation Sans', sans-serif" font-size="13" font-weight="bold" font-style="normal" text-anchor="end" fill="#000">1.5</text>
<line x1="617.2" y1="838.5" x2="1018" y2="838.5" stroke="#000" stroke-width="2.6" stroke-linecap="butt"/>
<line x1="665.3" y1="838.5" x2="665.3" y2="844.5" stroke="#000" stroke-width="2.6" stroke-linecap="butt"/>
<text x="665.3" y="859.6" font-family="'Liberation Sans', sans-serif" font-size="12.5" font-weight="bold" font-style="normal" text-anchor="middle" fill="#000">BL</text>
<line x1="766.8" y1="838.5" x2="766.8" y2="844.5" stroke="#000" stroke-width="2.6" stroke-linecap="butt"/>
<text x="766.8" y="859.6" font-family="'Liberation Sans', sans-serif" font-size="12.5" font-weight="bold" font-style="normal" text-anchor="middle" fill="#000">First</text>
<line x1="868.3" y1="838.5" x2="868.3" y2="844.5" stroke="#000" stroke-width="2.6" stroke-linecap="butt"/>
<text x="868.3" y="859.6" font-family="'Liberation Sans', sans-serif" font-size="12.5" font-weight="bold" font-style="normal" text-anchor="middle" fill="#000">Second</text>
<line x1="969.8" y1="838.5" x2="969.8" y2="844.5" stroke="#000" stroke-width="2.6" stroke-linecap="butt"/>
<text x="969.8" y="859.6" font-family="'Liberation Sans', sans-serif" font-size="12.5" font-weight="bold" font-style="normal" text-anchor="middle" fill="#000">Third</text>
<line x1="732.9" y1="695.3" x2="797.8" y2="695.3" stroke="#000" stroke-width="2.6" stroke-linecap="butt"/>
<line x1="734.8" y1="724.9" x2="776.9" y2="724.9" stroke="#000" stroke-width="2.6" stroke-linecap="butt"/>
<path d="M760.55 680.2L760.55 688.2M757.09 682.2L764.01 686.2M764.01 682.2L757.09 686.2" stroke="#000" stroke-width="2.1" fill="none"/>
<path d="M770.45 680.2L770.45 688.2M766.99 682.2L773.91 686.2M773.91 682.2L766.99 686.2" stroke="#000" stroke-width="2.1" fill="none"/>
<path d="M756.1 709.8L756.1 717.8M752.64 711.8L759.56 715.8M759.56 711.8L752.64 715.8" stroke="#000" stroke-width="2.1" fill="none"/>
<line x1="832.8" y1="691.6" x2="899.9" y2="691.6" stroke="#000" stroke-width="2.5" stroke-linecap="butt"/>
<line x1="834.5" y1="723.4" x2="876.3" y2="723.4" stroke="#000" stroke-width="2.5" stroke-linecap="butt"/>
<text x="866.3" y="684.1" font-family="'Liberation Sans', sans-serif" font-size="14.5" font-weight="normal" font-style="normal" text-anchor="middle" fill="#000">ns</text>
<text x="855.6" y="715.8" font-family="'Liberation Sans', sans-serif" font-size="14.5" font-weight="normal" font-style="normal" text-anchor="middle" fill="#000">ns</text>
<line x1="936.3" y1="691.6" x2="1003.4" y2="691.6" stroke="#000" stroke-width="2.5" stroke-linecap="butt"/>
<line x1="938" y1="723.4" x2="979.8" y2="723.4" stroke="#000" stroke-width="2.5" stroke-linecap="butt"/>
<text x="969.8" y="684.1" font-family="'Liberation Sans', sans-serif" font-size="14.5" font-weight="normal" font-style="normal" text-anchor="middle" fill="#000">ns</text>
<text x="959.1" y="715.8" font-family="'Liberation Sans', sans-serif" font-size="14.5" font-weight="normal" font-style="normal" text-anchor="middle" fill="#000">ns</text>
<circle cx="798.5" cy="600.3" r="2.6" stroke="#0000FF" stroke-width="1.6" fill="none"/>
<text x="818.3" y="605" font-family="'Liberation Sans', sans-serif" font-size="13.6" fill="#000">Veh</text>
<circle cx="798.5" cy="621.7" r="2.6" stroke="#FF0000" stroke-width="1.6" fill="none"/>
<text x="818.3" y="626.4" font-family="'Liberation Sans', sans-serif" font-size="13.6" fill="#000">25 µg DMI</text>
<circle cx="914.5" cy="598.5" r="2.6" stroke="#00BE00" stroke-width="1.6" fill="none"/>
<text x="933.9" y="603.2" font-family="'Liberation Sans', sans-serif" font-size="13.6" fill="#000">250 µg DMI</text>
<circle cx="915.2" cy="621" r="2.6" stroke="#A000EE" stroke-width="1.6" fill="none"/>
<text x="935.5" y="625.7" font-family="'Liberation Sans', sans-serif" font-size="13.6" fill="#000">1 mg DMI</text>
</svg></body></html>
